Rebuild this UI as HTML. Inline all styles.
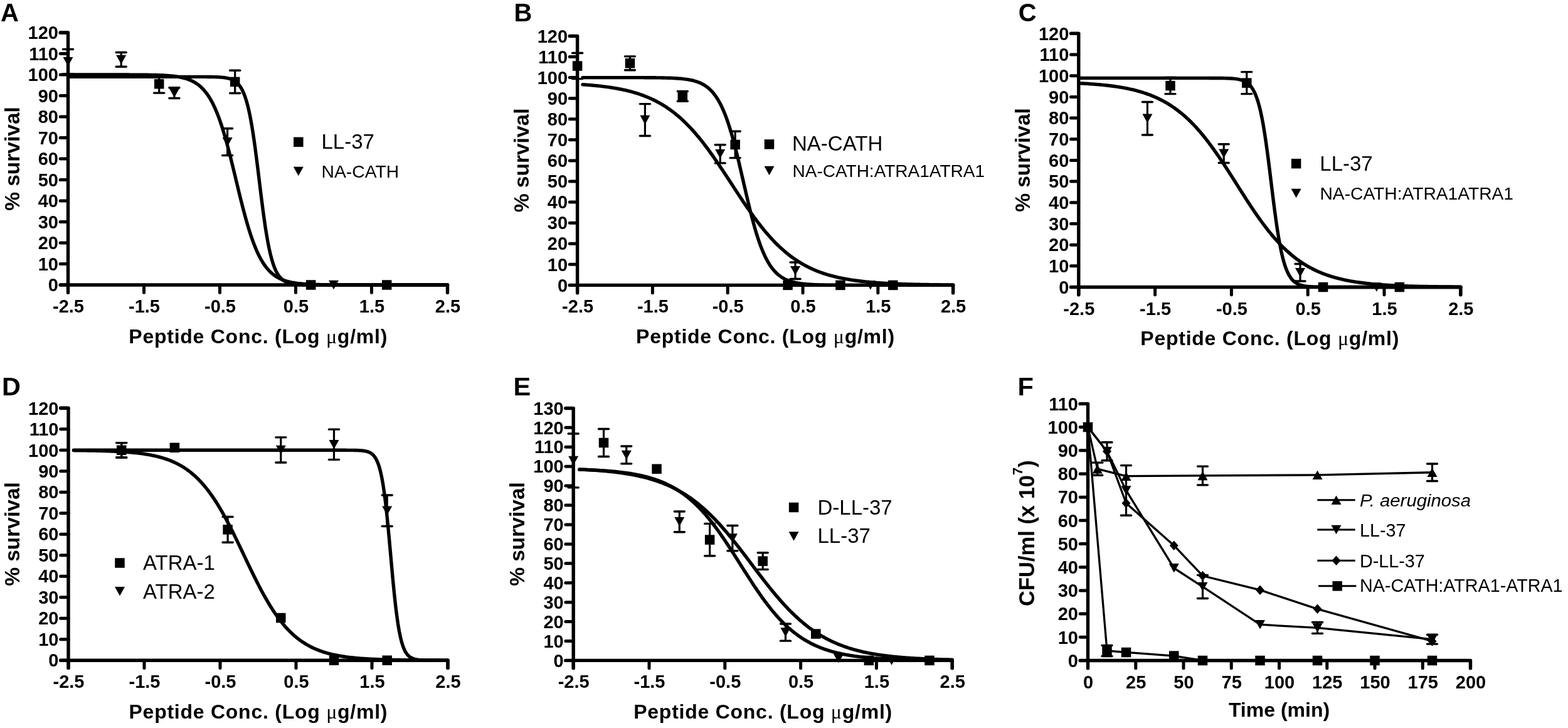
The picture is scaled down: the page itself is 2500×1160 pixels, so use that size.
<!DOCTYPE html>
<html><head><meta charset="utf-8"><title>Figure</title>
<style>
html,body{margin:0;padding:0;background:#fff;width:2500px;height:1160px;overflow:hidden}
svg{display:block}
text{font-family:"Liberation Sans", Arial, sans-serif;fill:#000;stroke:none}
</style></head><body>
<svg width="2500" height="1160" viewBox="0 0 2500 1160" stroke="#000" fill="#000">
<rect width="2500" height="1160" fill="#fff" stroke="none"/>
<g stroke="none">
</g>
<path d="M96.2,52 H108.5 V466.3" fill="none" stroke-width="5.4" stroke-linejoin="round" stroke-linecap="round"/>
<path d="M96.2,454 H713.5 V466.3" fill="none" stroke-width="5.4" stroke-linejoin="round" stroke-linecap="round"/>
<line x1="96.2" y1="454" x2="108.5" y2="454" stroke-width="5" stroke-linecap="round"/>
<line x1="96.2" y1="420.5" x2="108.5" y2="420.5" stroke-width="5" stroke-linecap="round"/>
<line x1="96.2" y1="387" x2="108.5" y2="387" stroke-width="5" stroke-linecap="round"/>
<line x1="96.2" y1="353.5" x2="108.5" y2="353.5" stroke-width="5" stroke-linecap="round"/>
<line x1="96.2" y1="320" x2="108.5" y2="320" stroke-width="5" stroke-linecap="round"/>
<line x1="96.2" y1="286.5" x2="108.5" y2="286.5" stroke-width="5" stroke-linecap="round"/>
<line x1="96.2" y1="253" x2="108.5" y2="253" stroke-width="5" stroke-linecap="round"/>
<line x1="96.2" y1="219.5" x2="108.5" y2="219.5" stroke-width="5" stroke-linecap="round"/>
<line x1="96.2" y1="186" x2="108.5" y2="186" stroke-width="5" stroke-linecap="round"/>
<line x1="96.2" y1="152.5" x2="108.5" y2="152.5" stroke-width="5" stroke-linecap="round"/>
<line x1="96.2" y1="119" x2="108.5" y2="119" stroke-width="5" stroke-linecap="round"/>
<line x1="96.2" y1="85.5" x2="108.5" y2="85.5" stroke-width="5" stroke-linecap="round"/>
<line x1="96.2" y1="52" x2="108.5" y2="52" stroke-width="5" stroke-linecap="round"/>
<line x1="108.5" y1="454" x2="108.5" y2="466.3" stroke-width="5" stroke-linecap="round"/>
<line x1="229.5" y1="454" x2="229.5" y2="466.3" stroke-width="5" stroke-linecap="round"/>
<line x1="350.5" y1="454" x2="350.5" y2="466.3" stroke-width="5" stroke-linecap="round"/>
<line x1="471.5" y1="454" x2="471.5" y2="466.3" stroke-width="5" stroke-linecap="round"/>
<line x1="592.5" y1="454" x2="592.5" y2="466.3" stroke-width="5" stroke-linecap="round"/>
<line x1="713.5" y1="454" x2="713.5" y2="466.3" stroke-width="5" stroke-linecap="round"/>
<text x="93" y="464.2" font-size="29" font-weight="bold" text-anchor="end" font-style="normal">0</text>
<text x="93" y="430.7" font-size="29" font-weight="bold" text-anchor="end" font-style="normal">10</text>
<text x="93" y="397.2" font-size="29" font-weight="bold" text-anchor="end" font-style="normal">20</text>
<text x="93" y="363.7" font-size="29" font-weight="bold" text-anchor="end" font-style="normal">30</text>
<text x="93" y="330.2" font-size="29" font-weight="bold" text-anchor="end" font-style="normal">40</text>
<text x="93" y="296.7" font-size="29" font-weight="bold" text-anchor="end" font-style="normal">50</text>
<text x="93" y="263.2" font-size="29" font-weight="bold" text-anchor="end" font-style="normal">60</text>
<text x="93" y="229.7" font-size="29" font-weight="bold" text-anchor="end" font-style="normal">70</text>
<text x="93" y="196.2" font-size="29" font-weight="bold" text-anchor="end" font-style="normal">80</text>
<text x="93" y="162.7" font-size="29" font-weight="bold" text-anchor="end" font-style="normal">90</text>
<text x="93" y="129.2" font-size="29" font-weight="bold" text-anchor="end" font-style="normal">100</text>
<text x="93" y="95.7" font-size="29" font-weight="bold" text-anchor="end" font-style="normal">110</text>
<text x="93" y="62.2" font-size="29" font-weight="bold" text-anchor="end" font-style="normal">120</text>
<text x="109" y="498" font-size="29" font-weight="bold" text-anchor="middle" font-style="normal">-2.5</text>
<text x="230" y="498" font-size="29" font-weight="bold" text-anchor="middle" font-style="normal">-1.5</text>
<text x="351" y="498" font-size="29" font-weight="bold" text-anchor="middle" font-style="normal">-0.5</text>
<text x="472" y="498" font-size="29" font-weight="bold" text-anchor="middle" font-style="normal">0.5</text>
<text x="593" y="498" font-size="29" font-weight="bold" text-anchor="middle" font-style="normal">1.5</text>
<text x="714" y="498" font-size="29" font-weight="bold" text-anchor="middle" font-style="normal">2.5</text>
<polyline points="108.5,119 110.52,119 112.53,119 114.55,119 116.57,119 118.58,119 120.6,119 122.62,119 124.63,119 126.65,119 128.67,119 130.68,119 132.7,119 134.72,119 136.73,119 138.75,119 140.77,119 142.78,119 144.8,119 146.82,119 148.83,119 150.85,119 152.87,119.01 154.88,119.01 156.9,119.01 158.92,119.01 160.93,119.01 162.95,119.01 164.97,119.01 166.98,119.01 169,119.01 171.02,119.01 173.03,119.01 175.05,119.02 177.07,119.02 179.08,119.02 181.1,119.02 183.12,119.02 185.13,119.03 187.15,119.03 189.17,119.03 191.18,119.03 193.2,119.04 195.22,119.04 197.23,119.05 199.25,119.05 201.27,119.06 203.28,119.06 205.3,119.07 207.32,119.08 209.33,119.08 211.35,119.09 213.37,119.1 215.38,119.11 217.4,119.13 219.42,119.14 221.43,119.15 223.45,119.17 225.47,119.19 227.48,119.21 229.5,119.23 231.52,119.25 233.53,119.28 235.55,119.31 237.57,119.34 239.58,119.38 241.6,119.42 243.62,119.46 245.63,119.51 247.65,119.56 249.67,119.62 251.68,119.69 253.7,119.76 255.72,119.84 257.73,119.93 259.75,120.02 261.77,120.13 263.78,120.25 265.8,120.38 267.82,120.53 269.83,120.69 271.85,120.86 273.87,121.06 275.88,121.27 277.9,121.51 279.92,121.77 281.93,122.06 283.95,122.38 285.97,122.73 287.98,123.12 290,123.55 292.02,124.02 294.03,124.54 296.05,125.12 298.07,125.75 300.08,126.44 302.1,127.21 304.12,128.05 306.13,128.98 308.15,129.99 310.17,131.11 312.18,132.33 314.2,133.68 316.22,135.15 318.23,136.76 320.25,138.52 322.27,140.45 324.28,142.55 326.3,144.84 328.32,147.33 330.33,150.04 332.35,152.98 334.37,156.16 336.38,159.6 338.4,163.31 340.42,167.3 342.43,171.59 344.45,176.19 346.47,181.1 348.48,186.33 350.5,191.87 352.52,197.75 354.53,203.94 356.55,210.45 358.57,217.25 360.58,224.35 362.6,231.71 364.62,239.32 366.63,247.15 368.65,255.16 370.67,263.33 372.68,271.61 374.7,279.96 376.72,288.35 378.73,296.72 380.75,305.05 382.77,313.28 384.78,321.38 386.8,329.32 388.82,337.05 390.83,344.56 392.85,351.81 394.87,358.78 396.88,365.45 398.9,371.82 400.92,377.88 402.93,383.61 404.95,389.01 406.97,394.1 408.98,398.87 411,403.33 413.02,407.49 415.03,411.36 417.05,414.95 419.07,418.27 421.08,421.35 423.1,424.18 425.12,426.79 427.13,429.19 429.15,431.4 431.17,433.42 433.18,435.27 435.2,436.97 437.22,438.51 439.23,439.93 441.25,441.22 443.27,442.39 445.28,443.47 447.3,444.44 449.32,445.33 451.33,446.14 453.35,446.87 455.37,447.54 457.38,448.14 459.4,448.69 461.42,449.19 463.43,449.64 465.45,450.05 467.47,450.42 469.48,450.76 471.5,451.07 473.52,451.35 475.53,451.6 477.55,451.82 479.57,452.03 481.58,452.22 483.6,452.39 485.62,452.54 487.63,452.68 489.65,452.8 491.67,452.92 493.68,453.02 495.7,453.11 497.72,453.2 499.73,453.27 501.75,453.34 503.77,453.41 505.78,453.46 507.8,453.51 509.82,453.56 511.83,453.6 513.85,453.64 515.87,453.67 517.88,453.7 519.9,453.73 521.92,453.76 523.93,453.78 525.95,453.8 527.97,453.82 529.98,453.84 532,453.85 534.02,453.87 536.03,453.88 538.05,453.89 540.07,453.9 542.08,453.91 544.1,453.92 546.12,453.93 548.13,453.93 550.15,453.94 552.17,453.95 554.18,453.95 556.2,453.96 558.22,453.96 560.23,453.96 562.25,453.97 564.27,453.97 566.28,453.97 568.3,453.98 570.32,453.98 572.33,453.98 574.35,453.98 576.37,453.98 578.38,453.99 580.4,453.99 582.42,453.99 584.43,453.99 586.45,453.99 588.47,453.99 590.48,453.99 592.5,453.99 594.52,453.99 596.53,453.99 598.55,453.99 600.57,454 602.58,454 604.6,454 606.62,454 608.63,454 610.65,454 612.67,454 614.68,454 616.7,454 618.72,454 620.73,454 622.75,454 624.77,454 626.78,454 628.8,454 630.82,454 632.83,454 634.85,454 636.87,454 638.88,454 640.9,454 642.92,454 644.93,454 646.95,454 648.97,454 650.98,454 653,454 655.02,454 657.03,454 659.05,454 661.07,454 663.08,454 665.1,454 667.12,454 669.13,454 671.15,454 673.17,454 675.18,454 677.2,454 679.22,454 681.23,454 683.25,454 685.27,454 687.28,454 689.3,454 691.32,454 693.33,454 695.35,454 697.37,454 699.38,454 701.4,454 703.42,454 705.43,454 707.45,454 709.47,454 711.48,454 713.5,454" fill="none" stroke-width="5.4" stroke-linejoin="round" stroke-linecap="round"/>
<polyline points="108.5,122.35 110.52,122.35 112.53,122.35 114.55,122.35 116.57,122.35 118.58,122.35 120.6,122.35 122.62,122.35 124.63,122.35 126.65,122.35 128.67,122.35 130.68,122.35 132.7,122.35 134.72,122.35 136.73,122.35 138.75,122.35 140.77,122.35 142.78,122.35 144.8,122.35 146.82,122.35 148.83,122.35 150.85,122.35 152.87,122.35 154.88,122.35 156.9,122.35 158.92,122.35 160.93,122.35 162.95,122.35 164.97,122.35 166.98,122.35 169,122.35 171.02,122.35 173.03,122.35 175.05,122.35 177.07,122.35 179.08,122.35 181.1,122.35 183.12,122.35 185.13,122.35 187.15,122.35 189.17,122.35 191.18,122.35 193.2,122.35 195.22,122.35 197.23,122.35 199.25,122.35 201.27,122.35 203.28,122.35 205.3,122.35 207.32,122.35 209.33,122.35 211.35,122.35 213.37,122.35 215.38,122.35 217.4,122.35 219.42,122.35 221.43,122.35 223.45,122.35 225.47,122.35 227.48,122.35 229.5,122.35 231.52,122.35 233.53,122.35 235.55,122.35 237.57,122.35 239.58,122.35 241.6,122.35 243.62,122.35 245.63,122.35 247.65,122.35 249.67,122.35 251.68,122.35 253.7,122.35 255.72,122.35 257.73,122.35 259.75,122.35 261.77,122.35 263.78,122.35 265.8,122.35 267.82,122.35 269.83,122.35 271.85,122.35 273.87,122.35 275.88,122.35 277.9,122.35 279.92,122.35 281.93,122.35 283.95,122.35 285.97,122.35 287.98,122.35 290,122.35 292.02,122.35 294.03,122.35 296.05,122.35 298.07,122.35 300.08,122.35 302.1,122.36 304.12,122.36 306.13,122.36 308.15,122.36 310.17,122.36 312.18,122.36 314.2,122.37 316.22,122.37 318.23,122.38 320.25,122.38 322.27,122.39 324.28,122.4 326.3,122.41 328.32,122.42 330.33,122.44 332.35,122.46 334.37,122.48 336.38,122.51 338.4,122.55 340.42,122.59 342.43,122.64 344.45,122.71 346.47,122.79 348.48,122.89 350.5,123 352.52,123.15 354.53,123.32 356.55,123.54 358.57,123.8 360.58,124.12 362.6,124.51 364.62,124.98 366.63,125.55 368.65,126.25 370.67,127.1 372.68,128.14 374.7,129.39 376.72,130.9 378.73,132.73 380.75,134.94 382.77,137.59 384.78,140.77 386.8,144.56 388.82,149.07 390.83,154.4 392.85,160.66 394.87,167.96 396.88,176.4 398.9,186.04 400.92,196.94 402.93,209.11 404.95,222.48 406.97,236.96 408.98,252.35 411,268.41 413.02,284.87 415.03,301.38 417.05,317.64 419.07,333.33 421.08,348.2 423.1,362.03 425.12,374.69 427.13,386.1 429.15,396.25 431.17,405.15 433.18,412.9 435.2,419.56 437.22,425.25 439.23,430.08 441.25,434.15 443.27,437.56 445.28,440.41 447.3,442.79 449.32,444.76 451.33,446.39 453.35,447.74 455.37,448.86 457.38,449.78 459.4,450.53 461.42,451.15 463.43,451.67 465.45,452.09 467.47,452.43 469.48,452.71 471.5,452.94 473.52,453.14 475.53,453.29 477.55,453.42 479.57,453.52 481.58,453.61 483.6,453.68 485.62,453.74 487.63,453.79 489.65,453.82 491.67,453.86 493.68,453.88 495.7,453.9 497.72,453.92 499.73,453.94 501.75,453.95 503.77,453.96 505.78,453.96 507.8,453.97 509.82,453.98 511.83,453.98 513.85,453.98 515.87,453.99 517.88,453.99 519.9,453.99 521.92,453.99 523.93,453.99 525.95,454 527.97,454 529.98,454 532,454 534.02,454 536.03,454 538.05,454 540.07,454 542.08,454 544.1,454 546.12,454 548.13,454 550.15,454 552.17,454 554.18,454 556.2,454 558.22,454 560.23,454 562.25,454 564.27,454 566.28,454 568.3,454 570.32,454 572.33,454 574.35,454 576.37,454 578.38,454 580.4,454 582.42,454 584.43,454 586.45,454 588.47,454 590.48,454 592.5,454 594.52,454 596.53,454 598.55,454 600.57,454 602.58,454 604.6,454 606.62,454 608.63,454 610.65,454 612.67,454 614.68,454 616.7,454 618.72,454 620.73,454 622.75,454 624.77,454 626.78,454 628.8,454 630.82,454 632.83,454 634.85,454 636.87,454 638.88,454 640.9,454 642.92,454 644.93,454 646.95,454 648.97,454 650.98,454 653,454 655.02,454 657.03,454 659.05,454 661.07,454 663.08,454 665.1,454 667.12,454 669.13,454 671.15,454 673.17,454 675.18,454 677.2,454 679.22,454 681.23,454 683.25,454 685.27,454 687.28,454 689.3,454 691.32,454 693.33,454 695.35,454 697.37,454 699.38,454 701.4,454 703.42,454 705.43,454 707.45,454 709.47,454 711.48,454 713.5,454" fill="none" stroke-width="5.4" stroke-linejoin="round" stroke-linecap="round"/>
<line x1="108.5" y1="78.46" x2="108.5" y2="117.99" stroke-width="3.2" stroke-linecap="butt"/>
<line x1="100.5" y1="78.46" x2="116.5" y2="78.46" stroke-width="3.4" stroke-linecap="round"/>
<line x1="100.5" y1="117.99" x2="116.5" y2="117.99" stroke-width="3.4" stroke-linecap="round"/>
<polygon points="100.5,90.98 116.5,90.98 108.5,105.48" stroke="none"/>
<line x1="193.2" y1="83.49" x2="193.2" y2="106.27" stroke-width="3.2" stroke-linecap="butt"/>
<line x1="185.2" y1="83.49" x2="201.2" y2="83.49" stroke-width="3.4" stroke-linecap="round"/>
<line x1="185.2" y1="106.27" x2="201.2" y2="106.27" stroke-width="3.4" stroke-linecap="round"/>
<polygon points="185.2,87.63 201.2,87.63 193.2,102.13" stroke="none"/>
<line x1="253.7" y1="119.34" x2="253.7" y2="148.15" stroke-width="3.2" stroke-linecap="butt"/>
<line x1="245.7" y1="119.34" x2="261.7" y2="119.34" stroke-width="3.4" stroke-linecap="round"/>
<line x1="245.7" y1="148.15" x2="261.7" y2="148.15" stroke-width="3.4" stroke-linecap="round"/>
<rect x="245.95" y="125.99" width="15.5" height="15.5" stroke="none"/>
<line x1="277.9" y1="139.77" x2="277.9" y2="156.52" stroke-width="3.2" stroke-linecap="butt"/>
<line x1="269.9" y1="139.77" x2="285.9" y2="139.77" stroke-width="3.4" stroke-linecap="round"/>
<line x1="269.9" y1="156.52" x2="285.9" y2="156.52" stroke-width="3.4" stroke-linecap="round"/>
<polygon points="269.9,140.89 285.9,140.89 277.9,155.39" stroke="none"/>
<line x1="374.7" y1="112.3" x2="374.7" y2="148.48" stroke-width="3.2" stroke-linecap="butt"/>
<line x1="366.7" y1="112.3" x2="382.7" y2="112.3" stroke-width="3.4" stroke-linecap="round"/>
<line x1="366.7" y1="148.48" x2="382.7" y2="148.48" stroke-width="3.4" stroke-linecap="round"/>
<rect x="366.95" y="122.64" width="15.5" height="15.5" stroke="none"/>
<line x1="362.6" y1="204.76" x2="362.6" y2="247.64" stroke-width="3.2" stroke-linecap="butt"/>
<line x1="354.6" y1="204.76" x2="370.6" y2="204.76" stroke-width="3.4" stroke-linecap="round"/>
<line x1="354.6" y1="247.64" x2="370.6" y2="247.64" stroke-width="3.4" stroke-linecap="round"/>
<polygon points="354.6,218.95 370.6,218.95 362.6,233.45" stroke="none"/>
<rect x="487.95" y="446.25" width="15.5" height="15.5" stroke="none"/>
<polygon points="524,446.75 540,446.75 532,461.25" stroke="none"/>
<rect x="608.95" y="446.25" width="15.5" height="15.5" stroke="none"/>
<rect x="468.05" y="218.55" width="15.5" height="15.5" stroke="none"/>
<text x="512.5" y="236.7" font-size="33" font-weight="normal" text-anchor="start" font-style="normal">LL-37</text>
<polygon points="467.8,265.75 483.8,265.75 475.8,280.25" stroke="none"/>
<text x="512.5" y="283.1" font-size="28.3" font-weight="normal" text-anchor="start" font-style="normal">NA-CATH</text>
<text x="1" y="33.8" font-size="40" font-weight="bold" text-anchor="start" font-style="normal">A</text>
<text transform="translate(30.5,253) rotate(-90)" font-size="33.5" font-weight="bold" text-anchor="middle">% survival</text>
<text x="411.3" y="547" font-size="32" font-weight="bold" text-anchor="middle" font-style="normal" textLength="412" lengthAdjust="spacing">Peptide Conc. (Log <tspan font-family="Liberation Serif, serif" font-weight="normal">μ</tspan>g/ml)</text>
<path d="M908.3,57.44 H920.6 V466.7" fill="none" stroke-width="5.4" stroke-linejoin="round" stroke-linecap="round"/>
<path d="M908.3,454.4 H1519.6 V466.7" fill="none" stroke-width="5.4" stroke-linejoin="round" stroke-linecap="round"/>
<line x1="908.3" y1="454.4" x2="920.6" y2="454.4" stroke-width="5" stroke-linecap="round"/>
<line x1="908.3" y1="421.32" x2="920.6" y2="421.32" stroke-width="5" stroke-linecap="round"/>
<line x1="908.3" y1="388.24" x2="920.6" y2="388.24" stroke-width="5" stroke-linecap="round"/>
<line x1="908.3" y1="355.16" x2="920.6" y2="355.16" stroke-width="5" stroke-linecap="round"/>
<line x1="908.3" y1="322.08" x2="920.6" y2="322.08" stroke-width="5" stroke-linecap="round"/>
<line x1="908.3" y1="289" x2="920.6" y2="289" stroke-width="5" stroke-linecap="round"/>
<line x1="908.3" y1="255.92" x2="920.6" y2="255.92" stroke-width="5" stroke-linecap="round"/>
<line x1="908.3" y1="222.84" x2="920.6" y2="222.84" stroke-width="5" stroke-linecap="round"/>
<line x1="908.3" y1="189.76" x2="920.6" y2="189.76" stroke-width="5" stroke-linecap="round"/>
<line x1="908.3" y1="156.68" x2="920.6" y2="156.68" stroke-width="5" stroke-linecap="round"/>
<line x1="908.3" y1="123.6" x2="920.6" y2="123.6" stroke-width="5" stroke-linecap="round"/>
<line x1="908.3" y1="90.52" x2="920.6" y2="90.52" stroke-width="5" stroke-linecap="round"/>
<line x1="908.3" y1="57.44" x2="920.6" y2="57.44" stroke-width="5" stroke-linecap="round"/>
<line x1="920.6" y1="454.4" x2="920.6" y2="466.7" stroke-width="5" stroke-linecap="round"/>
<line x1="1040.4" y1="454.4" x2="1040.4" y2="466.7" stroke-width="5" stroke-linecap="round"/>
<line x1="1160.2" y1="454.4" x2="1160.2" y2="466.7" stroke-width="5" stroke-linecap="round"/>
<line x1="1280" y1="454.4" x2="1280" y2="466.7" stroke-width="5" stroke-linecap="round"/>
<line x1="1399.8" y1="454.4" x2="1399.8" y2="466.7" stroke-width="5" stroke-linecap="round"/>
<line x1="1519.6" y1="454.4" x2="1519.6" y2="466.7" stroke-width="5" stroke-linecap="round"/>
<text x="905.1" y="464.6" font-size="29" font-weight="bold" text-anchor="end" font-style="normal">0</text>
<text x="905.1" y="431.52" font-size="29" font-weight="bold" text-anchor="end" font-style="normal">10</text>
<text x="905.1" y="398.44" font-size="29" font-weight="bold" text-anchor="end" font-style="normal">20</text>
<text x="905.1" y="365.36" font-size="29" font-weight="bold" text-anchor="end" font-style="normal">30</text>
<text x="905.1" y="332.28" font-size="29" font-weight="bold" text-anchor="end" font-style="normal">40</text>
<text x="905.1" y="299.2" font-size="29" font-weight="bold" text-anchor="end" font-style="normal">50</text>
<text x="905.1" y="266.12" font-size="29" font-weight="bold" text-anchor="end" font-style="normal">60</text>
<text x="905.1" y="233.04" font-size="29" font-weight="bold" text-anchor="end" font-style="normal">70</text>
<text x="905.1" y="199.96" font-size="29" font-weight="bold" text-anchor="end" font-style="normal">80</text>
<text x="905.1" y="166.88" font-size="29" font-weight="bold" text-anchor="end" font-style="normal">90</text>
<text x="905.1" y="133.8" font-size="29" font-weight="bold" text-anchor="end" font-style="normal">100</text>
<text x="905.1" y="100.72" font-size="29" font-weight="bold" text-anchor="end" font-style="normal">110</text>
<text x="905.1" y="67.64" font-size="29" font-weight="bold" text-anchor="end" font-style="normal">120</text>
<text x="921.1" y="498.4" font-size="29" font-weight="bold" text-anchor="middle" font-style="normal">-2.5</text>
<text x="1040.9" y="498.4" font-size="29" font-weight="bold" text-anchor="middle" font-style="normal">-1.5</text>
<text x="1160.7" y="498.4" font-size="29" font-weight="bold" text-anchor="middle" font-style="normal">-0.5</text>
<text x="1280.5" y="498.4" font-size="29" font-weight="bold" text-anchor="middle" font-style="normal">0.5</text>
<text x="1400.3" y="498.4" font-size="29" font-weight="bold" text-anchor="middle" font-style="normal">1.5</text>
<text x="1520.1" y="498.4" font-size="29" font-weight="bold" text-anchor="middle" font-style="normal">2.5</text>
<polyline points="928.99,123.6 930.95,123.6 932.92,123.6 934.89,123.6 936.86,123.6 938.83,123.6 940.8,123.6 942.77,123.6 944.74,123.6 946.7,123.6 948.67,123.6 950.64,123.6 952.61,123.6 954.58,123.6 956.55,123.6 958.52,123.6 960.49,123.6 962.45,123.6 964.42,123.6 966.39,123.6 968.36,123.6 970.33,123.6 972.3,123.6 974.27,123.6 976.24,123.61 978.2,123.61 980.17,123.61 982.14,123.61 984.11,123.61 986.08,123.61 988.05,123.61 990.02,123.61 991.98,123.61 993.95,123.61 995.92,123.62 997.89,123.62 999.86,123.62 1001.83,123.62 1003.8,123.62 1005.77,123.63 1007.73,123.63 1009.7,123.63 1011.67,123.64 1013.64,123.64 1015.61,123.64 1017.58,123.65 1019.55,123.65 1021.52,123.66 1023.48,123.67 1025.45,123.67 1027.42,123.68 1029.39,123.69 1031.36,123.7 1033.33,123.71 1035.3,123.72 1037.27,123.74 1039.23,123.75 1041.2,123.77 1043.17,123.79 1045.14,123.81 1047.11,123.83 1049.08,123.86 1051.05,123.88 1053.01,123.91 1054.98,123.95 1056.95,123.99 1058.92,124.03 1060.89,124.08 1062.86,124.13 1064.83,124.19 1066.8,124.25 1068.76,124.32 1070.73,124.4 1072.7,124.49 1074.67,124.58 1076.64,124.69 1078.61,124.81 1080.58,124.94 1082.55,125.08 1084.51,125.25 1086.48,125.42 1088.45,125.62 1090.42,125.84 1092.39,126.09 1094.36,126.35 1096.33,126.65 1098.3,126.98 1100.26,127.35 1102.23,127.75 1104.2,128.2 1106.17,128.7 1108.14,129.24 1110.11,129.85 1112.08,130.52 1114.05,131.25 1116.01,132.07 1117.98,132.97 1119.95,133.96 1121.92,135.05 1123.89,136.25 1125.86,137.58 1127.83,139.03 1129.79,140.63 1131.76,142.39 1133.73,144.31 1135.7,146.42 1137.67,148.72 1139.64,151.24 1141.61,153.98 1143.58,156.96 1145.54,160.2 1147.51,163.72 1149.48,167.52 1151.45,171.62 1153.42,176.03 1155.39,180.77 1157.36,185.84 1159.33,191.25 1161.29,197 1163.26,203.09 1165.23,209.52 1167.2,216.28 1169.17,223.35 1171.14,230.72 1173.11,238.36 1175.08,246.25 1177.04,254.35 1179.01,262.63 1180.98,271.05 1182.95,279.57 1184.92,288.13 1186.89,296.7 1188.86,305.23 1190.82,313.67 1192.79,321.98 1194.76,330.12 1196.73,338.06 1198.7,345.75 1200.67,353.18 1202.64,360.31 1204.61,367.13 1206.57,373.63 1208.54,379.79 1210.51,385.61 1212.48,391.09 1214.45,396.23 1216.42,401.03 1218.39,405.51 1220.36,409.67 1222.32,413.54 1224.29,417.11 1226.26,420.4 1228.23,423.44 1230.2,426.23 1232.17,428.79 1234.14,431.13 1236.11,433.28 1238.07,435.24 1240.04,437.02 1242.01,438.65 1243.98,440.14 1245.95,441.49 1247.92,442.71 1249.89,443.83 1251.85,444.84 1253.82,445.76 1255.79,446.59 1257.76,447.34 1259.73,448.02 1261.7,448.64 1263.67,449.2 1265.64,449.7 1267.6,450.16 1269.57,450.57 1271.54,450.95 1273.51,451.28 1275.48,451.59 1277.45,451.86 1279.42,452.11 1281.39,452.33 1283.35,452.54 1285.32,452.72 1287.29,452.88 1289.26,453.03 1291.23,453.17 1293.2,453.29 1295.17,453.4 1297.14,453.5 1299.1,453.58 1301.07,453.66 1303.04,453.74 1305.01,453.8 1306.98,453.86 1308.95,453.91 1310.92,453.96 1312.89,454 1314.85,454.04 1316.82,454.08 1318.79,454.11 1320.76,454.14 1322.73,454.16 1324.7,454.19 1326.67,454.21 1328.63,454.23 1330.6,454.24 1332.57,454.26 1334.54,454.27 1336.51,454.29 1338.48,454.3 1340.45,454.31 1342.42,454.32 1344.38,454.32 1346.35,454.33 1348.32,454.34 1350.29,454.34 1352.26,454.35 1354.23,454.36 1356.2,454.36 1358.17,454.36 1360.13,454.37 1362.1,454.37 1364.07,454.37 1366.04,454.38 1368.01,454.38 1369.98,454.38 1371.95,454.38 1373.92,454.38 1375.88,454.39 1377.85,454.39 1379.82,454.39 1381.79,454.39 1383.76,454.39 1385.73,454.39 1387.7,454.39 1389.66,454.39 1391.63,454.39 1393.6,454.39 1395.57,454.39 1397.54,454.4 1399.51,454.4 1401.48,454.4 1403.45,454.4 1405.41,454.4 1407.38,454.4 1409.35,454.4 1411.32,454.4 1413.29,454.4 1415.26,454.4 1417.23,454.4 1419.2,454.4 1421.16,454.4 1423.13,454.4 1425.1,454.4 1427.07,454.4 1429.04,454.4 1431.01,454.4 1432.98,454.4 1434.95,454.4 1436.91,454.4 1438.88,454.4 1440.85,454.4 1442.82,454.4 1444.79,454.4 1446.76,454.4 1448.73,454.4 1450.7,454.4 1452.66,454.4 1454.63,454.4 1456.6,454.4 1458.57,454.4 1460.54,454.4 1462.51,454.4 1464.48,454.4 1466.44,454.4 1468.41,454.4 1470.38,454.4 1472.35,454.4 1474.32,454.4 1476.29,454.4 1478.26,454.4 1480.23,454.4 1482.19,454.4 1484.16,454.4 1486.13,454.4 1488.1,454.4 1490.07,454.4 1492.04,454.4 1494.01,454.4 1495.98,454.4 1497.94,454.4 1499.91,454.4 1501.88,454.4 1503.85,454.4 1505.82,454.4 1507.79,454.4 1509.76,454.4 1511.73,454.4 1513.69,454.4 1515.66,454.4 1517.63,454.4 1519.6,454.4" fill="none" stroke-width="5.4" stroke-linejoin="round" stroke-linecap="round"/>
<polyline points="928.99,134.76 930.95,134.89 932.92,135.03 934.89,135.18 936.86,135.32 938.83,135.48 940.8,135.64 942.77,135.81 944.74,135.98 946.7,136.16 948.67,136.34 950.64,136.53 952.61,136.73 954.58,136.94 956.55,137.15 958.52,137.38 960.49,137.61 962.45,137.84 964.42,138.09 966.39,138.35 968.36,138.61 970.33,138.89 972.3,139.17 974.27,139.47 976.24,139.77 978.2,140.09 980.17,140.42 982.14,140.76 984.11,141.11 986.08,141.48 988.05,141.86 990.02,142.25 991.98,142.65 993.95,143.07 995.92,143.51 997.89,143.96 999.86,144.42 1001.83,144.9 1003.8,145.4 1005.77,145.92 1007.73,146.45 1009.7,147 1011.67,147.57 1013.64,148.16 1015.61,148.77 1017.58,149.4 1019.55,150.05 1021.52,150.73 1023.48,151.42 1025.45,152.14 1027.42,152.89 1029.39,153.65 1031.36,154.45 1033.33,155.27 1035.3,156.11 1037.27,156.98 1039.23,157.88 1041.2,158.81 1043.17,159.77 1045.14,160.76 1047.11,161.77 1049.08,162.82 1051.05,163.9 1053.01,165.02 1054.98,166.17 1056.95,167.35 1058.92,168.56 1060.89,169.82 1062.86,171.1 1064.83,172.43 1066.8,173.79 1068.76,175.19 1070.73,176.63 1072.7,178.11 1074.67,179.62 1076.64,181.18 1078.61,182.78 1080.58,184.42 1082.55,186.1 1084.51,187.82 1086.48,189.59 1088.45,191.39 1090.42,193.25 1092.39,195.14 1094.36,197.08 1096.33,199.06 1098.3,201.08 1100.26,203.15 1102.23,205.26 1104.2,207.41 1106.17,209.61 1108.14,211.85 1110.11,214.13 1112.08,216.45 1114.05,218.82 1116.01,221.22 1117.98,223.67 1119.95,226.15 1121.92,228.67 1123.89,231.24 1125.86,233.83 1127.83,236.47 1129.79,239.13 1131.76,241.84 1133.73,244.57 1135.7,247.33 1137.67,250.13 1139.64,252.95 1141.61,255.79 1143.58,258.66 1145.54,261.56 1147.51,264.47 1149.48,267.41 1151.45,270.36 1153.42,273.32 1155.39,276.3 1157.36,279.3 1159.33,282.3 1161.29,285.31 1163.26,288.32 1165.23,291.34 1167.2,294.35 1169.17,297.37 1171.14,300.38 1173.11,303.39 1175.08,306.39 1177.04,309.38 1179.01,312.36 1180.98,315.33 1182.95,318.28 1184.92,321.21 1186.89,324.13 1188.86,327.02 1190.82,329.89 1192.79,332.74 1194.76,335.56 1196.73,338.35 1198.7,341.11 1200.67,343.84 1202.64,346.55 1204.61,349.21 1206.57,351.84 1208.54,354.44 1210.51,357 1212.48,359.52 1214.45,362.01 1216.42,364.45 1218.39,366.86 1220.36,369.22 1222.32,371.54 1224.29,373.82 1226.26,376.06 1228.23,378.25 1230.2,380.41 1232.17,382.52 1234.14,384.58 1236.11,386.6 1238.07,388.58 1240.04,390.52 1242.01,392.41 1243.98,394.26 1245.95,396.07 1247.92,397.83 1249.89,399.55 1251.85,401.23 1253.82,402.87 1255.79,404.47 1257.76,406.03 1259.73,407.54 1261.7,409.02 1263.67,410.46 1265.64,411.85 1267.6,413.22 1269.57,414.54 1271.54,415.83 1273.51,417.08 1275.48,418.29 1277.45,419.47 1279.42,420.62 1281.39,421.73 1283.35,422.81 1285.32,423.86 1287.29,424.88 1289.26,425.87 1291.23,426.82 1293.2,427.75 1295.17,428.65 1297.14,429.52 1299.1,430.36 1301.07,431.18 1303.04,431.97 1305.01,432.74 1306.98,433.48 1308.95,434.2 1310.92,434.9 1312.89,435.57 1314.85,436.22 1316.82,436.85 1318.79,437.46 1320.76,438.05 1322.73,438.62 1324.7,439.17 1326.67,439.71 1328.63,440.22 1330.6,440.72 1332.57,441.2 1334.54,441.66 1336.51,442.11 1338.48,442.55 1340.45,442.97 1342.42,443.37 1344.38,443.76 1346.35,444.14 1348.32,444.5 1350.29,444.86 1352.26,445.2 1354.23,445.52 1356.2,445.84 1358.17,446.15 1360.13,446.44 1362.1,446.73 1364.07,447 1366.04,447.27 1368.01,447.52 1369.98,447.77 1371.95,448.01 1373.92,448.24 1375.88,448.46 1377.85,448.67 1379.82,448.88 1381.79,449.08 1383.76,449.27 1385.73,449.46 1387.7,449.63 1389.66,449.81 1391.63,449.97 1393.6,450.13 1395.57,450.29 1397.54,450.44 1399.51,450.58 1401.48,450.72 1403.45,450.85 1405.41,450.98 1407.38,451.1 1409.35,451.22 1411.32,451.34 1413.29,451.45 1415.26,451.56 1417.23,451.66 1419.2,451.76 1421.16,451.86 1423.13,451.95 1425.1,452.04 1427.07,452.12 1429.04,452.21 1431.01,452.29 1432.98,452.36 1434.95,452.44 1436.91,452.51 1438.88,452.58 1440.85,452.65 1442.82,452.71 1444.79,452.77 1446.76,452.83 1448.73,452.89 1450.7,452.94 1452.66,453 1454.63,453.05 1456.6,453.1 1458.57,453.14 1460.54,453.19 1462.51,453.23 1464.48,453.28 1466.44,453.32 1468.41,453.36 1470.38,453.4 1472.35,453.43 1474.32,453.47 1476.29,453.5 1478.26,453.53 1480.23,453.57 1482.19,453.6 1484.16,453.63 1486.13,453.65 1488.1,453.68 1490.07,453.71 1492.04,453.73 1494.01,453.76 1495.98,453.78 1497.94,453.8 1499.91,453.83 1501.88,453.85 1503.85,453.87 1505.82,453.89 1507.79,453.91 1509.76,453.92 1511.73,453.94 1513.69,453.96 1515.66,453.97 1517.63,453.99 1519.6,454" fill="none" stroke-width="5.4" stroke-linejoin="round" stroke-linecap="round"/>
<line x1="920.6" y1="84.57" x2="920.6" y2="125.58" stroke-width="3.2" stroke-linecap="butt"/>
<line x1="912.6" y1="84.57" x2="928.6" y2="84.57" stroke-width="3.4" stroke-linecap="round"/>
<line x1="912.6" y1="125.58" x2="928.6" y2="125.58" stroke-width="3.4" stroke-linecap="round"/>
<rect x="912.85" y="97.33" width="15.5" height="15.5" stroke="none"/>
<line x1="1004.46" y1="89.86" x2="1004.46" y2="111.69" stroke-width="3.2" stroke-linecap="butt"/>
<line x1="996.46" y1="89.86" x2="1012.46" y2="89.86" stroke-width="3.4" stroke-linecap="round"/>
<line x1="996.46" y1="111.69" x2="1012.46" y2="111.69" stroke-width="3.4" stroke-linecap="round"/>
<rect x="996.71" y="93.02" width="15.5" height="15.5" stroke="none"/>
<line x1="1088.32" y1="145.43" x2="1088.32" y2="161.31" stroke-width="3.2" stroke-linecap="butt"/>
<line x1="1080.32" y1="145.43" x2="1096.32" y2="145.43" stroke-width="3.4" stroke-linecap="round"/>
<line x1="1080.32" y1="161.31" x2="1096.32" y2="161.31" stroke-width="3.4" stroke-linecap="round"/>
<rect x="1080.57" y="145.62" width="15.5" height="15.5" stroke="none"/>
<line x1="1028.42" y1="165.61" x2="1028.42" y2="216.55" stroke-width="3.2" stroke-linecap="butt"/>
<line x1="1020.42" y1="165.61" x2="1036.42" y2="165.61" stroke-width="3.4" stroke-linecap="round"/>
<line x1="1020.42" y1="216.55" x2="1036.42" y2="216.55" stroke-width="3.4" stroke-linecap="round"/>
<polygon points="1020.42,183.83 1036.42,183.83 1028.42,198.33" stroke="none"/>
<line x1="1148.22" y1="230.78" x2="1148.22" y2="259.89" stroke-width="3.2" stroke-linecap="butt"/>
<line x1="1140.22" y1="230.78" x2="1156.22" y2="230.78" stroke-width="3.4" stroke-linecap="round"/>
<line x1="1140.22" y1="259.89" x2="1156.22" y2="259.89" stroke-width="3.4" stroke-linecap="round"/>
<polygon points="1140.22,238.08 1156.22,238.08 1148.22,252.58" stroke="none"/>
<line x1="1172.18" y1="209.28" x2="1172.18" y2="251.62" stroke-width="3.2" stroke-linecap="butt"/>
<line x1="1164.18" y1="209.28" x2="1180.18" y2="209.28" stroke-width="3.4" stroke-linecap="round"/>
<line x1="1164.18" y1="251.62" x2="1180.18" y2="251.62" stroke-width="3.4" stroke-linecap="round"/>
<rect x="1164.43" y="222.7" width="15.5" height="15.5" stroke="none"/>
<line x1="1268.02" y1="418.01" x2="1268.02" y2="444.48" stroke-width="3.2" stroke-linecap="butt"/>
<line x1="1260.02" y1="418.01" x2="1276.02" y2="418.01" stroke-width="3.4" stroke-linecap="round"/>
<line x1="1260.02" y1="444.48" x2="1276.02" y2="444.48" stroke-width="3.4" stroke-linecap="round"/>
<polygon points="1260.02,423.99 1276.02,423.99 1268.02,438.49" stroke="none"/>
<rect x="1248.29" y="446.65" width="15.5" height="15.5" stroke="none"/>
<rect x="1332.15" y="446.65" width="15.5" height="15.5" stroke="none"/>
<polygon points="1379.82,447.15 1395.82,447.15 1387.82,461.65" stroke="none"/>
<rect x="1416.01" y="446.65" width="15.5" height="15.5" stroke="none"/>
<rect x="1218.75" y="222.15" width="15.5" height="15.5" stroke="none"/>
<text x="1263" y="240.2" font-size="33" font-weight="normal" text-anchor="start" font-style="normal">NA-CATH</text>
<polygon points="1218.5,264.75 1234.5,264.75 1226.5,279.25" stroke="none"/>
<text x="1263.5" y="282" font-size="28" font-weight="normal" text-anchor="start" font-style="normal">NA-CATH:ATRA1ATRA1</text>
<text x="819.5" y="33.6" font-size="40" font-weight="bold" text-anchor="start" font-style="normal">B</text>
<text transform="translate(842.5,255.4) rotate(-90)" font-size="33.5" font-weight="bold" text-anchor="middle">% survival</text>
<text x="1220.1" y="547" font-size="32" font-weight="bold" text-anchor="middle" font-style="normal" textLength="412" lengthAdjust="spacing">Peptide Conc. (Log <tspan font-family="Liberation Serif, serif" font-weight="normal">μ</tspan>g/ml)</text>
<path d="M1707.5,53.34 H1719.8 V469.8" fill="none" stroke-width="5.4" stroke-linejoin="round" stroke-linecap="round"/>
<path d="M1707.5,457.5 H2328.8 V469.8" fill="none" stroke-width="5.4" stroke-linejoin="round" stroke-linecap="round"/>
<line x1="1707.5" y1="457.5" x2="1719.8" y2="457.5" stroke-width="5" stroke-linecap="round"/>
<line x1="1707.5" y1="423.82" x2="1719.8" y2="423.82" stroke-width="5" stroke-linecap="round"/>
<line x1="1707.5" y1="390.14" x2="1719.8" y2="390.14" stroke-width="5" stroke-linecap="round"/>
<line x1="1707.5" y1="356.46" x2="1719.8" y2="356.46" stroke-width="5" stroke-linecap="round"/>
<line x1="1707.5" y1="322.78" x2="1719.8" y2="322.78" stroke-width="5" stroke-linecap="round"/>
<line x1="1707.5" y1="289.1" x2="1719.8" y2="289.1" stroke-width="5" stroke-linecap="round"/>
<line x1="1707.5" y1="255.42" x2="1719.8" y2="255.42" stroke-width="5" stroke-linecap="round"/>
<line x1="1707.5" y1="221.74" x2="1719.8" y2="221.74" stroke-width="5" stroke-linecap="round"/>
<line x1="1707.5" y1="188.06" x2="1719.8" y2="188.06" stroke-width="5" stroke-linecap="round"/>
<line x1="1707.5" y1="154.38" x2="1719.8" y2="154.38" stroke-width="5" stroke-linecap="round"/>
<line x1="1707.5" y1="120.7" x2="1719.8" y2="120.7" stroke-width="5" stroke-linecap="round"/>
<line x1="1707.5" y1="87.02" x2="1719.8" y2="87.02" stroke-width="5" stroke-linecap="round"/>
<line x1="1707.5" y1="53.34" x2="1719.8" y2="53.34" stroke-width="5" stroke-linecap="round"/>
<line x1="1719.8" y1="457.5" x2="1719.8" y2="469.8" stroke-width="5" stroke-linecap="round"/>
<line x1="1841.6" y1="457.5" x2="1841.6" y2="469.8" stroke-width="5" stroke-linecap="round"/>
<line x1="1963.4" y1="457.5" x2="1963.4" y2="469.8" stroke-width="5" stroke-linecap="round"/>
<line x1="2085.2" y1="457.5" x2="2085.2" y2="469.8" stroke-width="5" stroke-linecap="round"/>
<line x1="2207" y1="457.5" x2="2207" y2="469.8" stroke-width="5" stroke-linecap="round"/>
<line x1="2328.8" y1="457.5" x2="2328.8" y2="469.8" stroke-width="5" stroke-linecap="round"/>
<text x="1704.3" y="467.7" font-size="29" font-weight="bold" text-anchor="end" font-style="normal">0</text>
<text x="1704.3" y="434.02" font-size="29" font-weight="bold" text-anchor="end" font-style="normal">10</text>
<text x="1704.3" y="400.34" font-size="29" font-weight="bold" text-anchor="end" font-style="normal">20</text>
<text x="1704.3" y="366.66" font-size="29" font-weight="bold" text-anchor="end" font-style="normal">30</text>
<text x="1704.3" y="332.98" font-size="29" font-weight="bold" text-anchor="end" font-style="normal">40</text>
<text x="1704.3" y="299.3" font-size="29" font-weight="bold" text-anchor="end" font-style="normal">50</text>
<text x="1704.3" y="265.62" font-size="29" font-weight="bold" text-anchor="end" font-style="normal">60</text>
<text x="1704.3" y="231.94" font-size="29" font-weight="bold" text-anchor="end" font-style="normal">70</text>
<text x="1704.3" y="198.26" font-size="29" font-weight="bold" text-anchor="end" font-style="normal">80</text>
<text x="1704.3" y="164.58" font-size="29" font-weight="bold" text-anchor="end" font-style="normal">90</text>
<text x="1704.3" y="130.9" font-size="29" font-weight="bold" text-anchor="end" font-style="normal">100</text>
<text x="1704.3" y="97.22" font-size="29" font-weight="bold" text-anchor="end" font-style="normal">110</text>
<text x="1704.3" y="63.54" font-size="29" font-weight="bold" text-anchor="end" font-style="normal">120</text>
<text x="1720.3" y="501.5" font-size="29" font-weight="bold" text-anchor="middle" font-style="normal">-2.5</text>
<text x="1842.1" y="501.5" font-size="29" font-weight="bold" text-anchor="middle" font-style="normal">-1.5</text>
<text x="1963.9" y="501.5" font-size="29" font-weight="bold" text-anchor="middle" font-style="normal">-0.5</text>
<text x="2085.7" y="501.5" font-size="29" font-weight="bold" text-anchor="middle" font-style="normal">0.5</text>
<text x="2207.5" y="501.5" font-size="29" font-weight="bold" text-anchor="middle" font-style="normal">1.5</text>
<text x="2329.3" y="501.5" font-size="29" font-weight="bold" text-anchor="middle" font-style="normal">2.5</text>
<polyline points="1719.8,132.64 1721.83,132.74 1723.86,132.85 1725.89,132.95 1727.92,133.07 1729.95,133.18 1731.98,133.3 1734.01,133.43 1736.04,133.56 1738.07,133.69 1740.1,133.83 1742.13,133.98 1744.16,134.13 1746.19,134.29 1748.22,134.45 1750.25,134.62 1752.28,134.8 1754.31,134.98 1756.34,135.18 1758.37,135.37 1760.4,135.58 1762.43,135.79 1764.46,136.02 1766.49,136.25 1768.52,136.49 1770.55,136.73 1772.58,136.99 1774.61,137.26 1776.64,137.54 1778.67,137.83 1780.7,138.13 1782.73,138.44 1784.76,138.76 1786.79,139.1 1788.82,139.44 1790.85,139.8 1792.88,140.18 1794.91,140.57 1796.94,140.97 1798.97,141.39 1801,141.82 1803.03,142.27 1805.06,142.74 1807.09,143.22 1809.12,143.72 1811.15,144.24 1813.18,144.78 1815.21,145.34 1817.24,145.91 1819.27,146.51 1821.3,147.13 1823.33,147.77 1825.36,148.44 1827.39,149.13 1829.42,149.84 1831.45,150.58 1833.48,151.34 1835.51,152.13 1837.54,152.95 1839.57,153.79 1841.6,154.67 1843.63,155.57 1845.66,156.5 1847.69,157.47 1849.72,158.47 1851.75,159.49 1853.78,160.56 1855.81,161.66 1857.84,162.79 1859.87,163.96 1861.9,165.16 1863.93,166.41 1865.96,167.69 1867.99,169.01 1870.02,170.37 1872.05,171.77 1874.08,173.22 1876.11,174.7 1878.14,176.23 1880.17,177.8 1882.2,179.42 1884.23,181.08 1886.26,182.79 1888.29,184.54 1890.32,186.34 1892.35,188.19 1894.38,190.08 1896.41,192.02 1898.44,194.01 1900.47,196.05 1902.5,198.13 1904.53,200.26 1906.56,202.45 1908.59,204.68 1910.62,206.95 1912.65,209.28 1914.68,211.65 1916.71,214.07 1918.74,216.54 1920.77,219.05 1922.8,221.61 1924.83,224.21 1926.86,226.86 1928.89,229.54 1930.92,232.28 1932.95,235.05 1934.98,237.86 1937.01,240.7 1939.04,243.59 1941.07,246.51 1943.1,249.46 1945.13,252.44 1947.16,255.46 1949.19,258.5 1951.22,261.57 1953.25,264.66 1955.28,267.77 1957.31,270.9 1959.34,274.05 1961.37,277.21 1963.4,280.39 1965.43,283.58 1967.46,286.77 1969.49,289.97 1971.52,293.17 1973.55,296.38 1975.58,299.58 1977.61,302.78 1979.64,305.97 1981.67,309.15 1983.7,312.32 1985.73,315.47 1987.76,318.61 1989.79,321.73 1991.82,324.83 1993.85,327.91 1995.88,330.96 1997.91,333.98 1999.94,336.98 2001.97,339.95 2004,342.88 2006.03,345.78 2008.06,348.64 2010.09,351.46 2012.12,354.25 2014.15,357 2016.18,359.7 2018.21,362.37 2020.24,364.99 2022.27,367.56 2024.3,370.09 2026.33,372.58 2028.36,375.02 2030.39,377.41 2032.42,379.75 2034.45,382.05 2036.48,384.3 2038.51,386.5 2040.54,388.65 2042.57,390.76 2044.6,392.81 2046.63,394.82 2048.66,396.78 2050.69,398.69 2052.72,400.56 2054.75,402.37 2056.78,404.15 2058.81,405.87 2060.84,407.55 2062.87,409.18 2064.9,410.77 2066.93,412.32 2068.96,413.82 2070.99,415.28 2073.02,416.7 2075.05,418.08 2077.08,419.42 2079.11,420.71 2081.14,421.97 2083.17,423.19 2085.2,424.38 2087.23,425.53 2089.26,426.64 2091.29,427.71 2093.32,428.76 2095.35,429.77 2097.38,430.74 2099.41,431.69 2101.44,432.61 2103.47,433.49 2105.5,434.35 2107.53,435.18 2109.56,435.98 2111.59,436.75 2113.62,437.5 2115.65,438.22 2117.68,438.92 2119.71,439.59 2121.74,440.24 2123.77,440.87 2125.8,441.48 2127.83,442.07 2129.86,442.63 2131.89,443.18 2133.92,443.7 2135.95,444.21 2137.98,444.7 2140.01,445.18 2142.04,445.63 2144.07,446.07 2146.1,446.5 2148.13,446.9 2150.16,447.3 2152.19,447.68 2154.22,448.04 2156.25,448.4 2158.28,448.74 2160.31,449.06 2162.34,449.38 2164.37,449.68 2166.4,449.98 2168.43,450.26 2170.46,450.53 2172.49,450.79 2174.52,451.05 2176.55,451.29 2178.58,451.52 2180.61,451.75 2182.64,451.97 2184.67,452.18 2186.7,452.38 2188.73,452.57 2190.76,452.76 2192.79,452.94 2194.82,453.11 2196.85,453.28 2198.88,453.44 2200.91,453.59 2202.94,453.74 2204.97,453.88 2207,454.02 2209.03,454.15 2211.06,454.28 2213.09,454.4 2215.12,454.52 2217.15,454.63 2219.18,454.74 2221.21,454.85 2223.24,454.95 2225.27,455.04 2227.3,455.14 2229.33,455.23 2231.36,455.31 2233.39,455.4 2235.42,455.48 2237.45,455.56 2239.48,455.63 2241.51,455.7 2243.54,455.77 2245.57,455.84 2247.6,455.9 2249.63,455.96 2251.66,456.02 2253.69,456.08 2255.72,456.13 2257.75,456.18 2259.78,456.23 2261.81,456.28 2263.84,456.33 2265.87,456.37 2267.9,456.42 2269.93,456.46 2271.96,456.5 2273.99,456.54 2276.02,456.57 2278.05,456.61 2280.08,456.64 2282.11,456.68 2284.14,456.71 2286.17,456.74 2288.2,456.77 2290.23,456.79 2292.26,456.82 2294.29,456.85 2296.32,456.87 2298.35,456.9 2300.38,456.92 2302.41,456.94 2304.44,456.96 2306.47,456.98 2308.5,457 2310.53,457.02 2312.56,457.04 2314.59,457.06 2316.62,457.08 2318.65,457.09 2320.68,457.11 2322.71,457.12 2324.74,457.14 2326.77,457.15 2328.8,457.16" fill="none" stroke-width="5.4" stroke-linejoin="round" stroke-linecap="round"/>
<polyline points="1719.8,124.4 1721.83,124.4 1723.86,124.4 1725.89,124.4 1727.92,124.4 1729.95,124.4 1731.98,124.4 1734.01,124.4 1736.04,124.4 1738.07,124.4 1740.1,124.4 1742.13,124.4 1744.16,124.4 1746.19,124.4 1748.22,124.4 1750.25,124.4 1752.28,124.4 1754.31,124.4 1756.34,124.4 1758.37,124.4 1760.4,124.4 1762.43,124.4 1764.46,124.4 1766.49,124.4 1768.52,124.4 1770.55,124.4 1772.58,124.4 1774.61,124.4 1776.64,124.4 1778.67,124.4 1780.7,124.4 1782.73,124.4 1784.76,124.4 1786.79,124.4 1788.82,124.4 1790.85,124.4 1792.88,124.4 1794.91,124.4 1796.94,124.4 1798.97,124.4 1801,124.4 1803.03,124.4 1805.06,124.4 1807.09,124.4 1809.12,124.4 1811.15,124.4 1813.18,124.4 1815.21,124.4 1817.24,124.4 1819.27,124.4 1821.3,124.4 1823.33,124.4 1825.36,124.4 1827.39,124.4 1829.42,124.4 1831.45,124.4 1833.48,124.4 1835.51,124.4 1837.54,124.4 1839.57,124.4 1841.6,124.4 1843.63,124.4 1845.66,124.4 1847.69,124.4 1849.72,124.4 1851.75,124.4 1853.78,124.4 1855.81,124.4 1857.84,124.4 1859.87,124.4 1861.9,124.4 1863.93,124.4 1865.96,124.4 1867.99,124.4 1870.02,124.4 1872.05,124.4 1874.08,124.4 1876.11,124.4 1878.14,124.4 1880.17,124.4 1882.2,124.41 1884.23,124.41 1886.26,124.41 1888.29,124.41 1890.32,124.41 1892.35,124.41 1894.38,124.41 1896.41,124.41 1898.44,124.41 1900.47,124.41 1902.5,124.41 1904.53,124.41 1906.56,124.41 1908.59,124.41 1910.62,124.41 1912.65,124.41 1914.68,124.41 1916.71,124.41 1918.74,124.41 1920.77,124.41 1922.8,124.42 1924.83,124.42 1926.86,124.42 1928.89,124.43 1930.92,124.43 1932.95,124.44 1934.98,124.45 1937.01,124.45 1939.04,124.46 1941.07,124.48 1943.1,124.49 1945.13,124.51 1947.16,124.54 1949.19,124.57 1951.22,124.6 1953.25,124.65 1955.28,124.7 1957.31,124.77 1959.34,124.85 1961.37,124.94 1963.4,125.06 1965.43,125.21 1967.46,125.38 1969.49,125.6 1971.52,125.86 1973.55,126.18 1975.58,126.57 1977.61,127.05 1979.64,127.62 1981.67,128.33 1983.7,129.18 1985.73,130.22 1987.76,131.47 1989.79,132.99 1991.82,134.83 1993.85,137.05 1995.88,139.71 1997.91,142.9 1999.94,146.71 2001.97,151.24 2004,156.6 2006.03,162.89 2008.06,170.22 2010.09,178.69 2012.12,188.37 2014.15,199.32 2016.18,211.54 2018.21,224.98 2020.24,239.51 2022.27,254.97 2024.3,271.11 2026.33,287.63 2028.36,304.22 2030.39,320.55 2032.42,336.31 2034.45,351.24 2036.48,365.13 2038.51,377.85 2040.54,389.31 2042.57,399.49 2044.6,408.44 2046.63,416.22 2048.66,422.91 2050.69,428.63 2052.72,433.47 2054.75,437.56 2056.78,440.99 2058.81,443.85 2060.84,446.24 2062.87,448.22 2064.9,449.86 2066.93,451.22 2068.96,452.33 2070.99,453.26 2073.02,454.02 2075.05,454.64 2077.08,455.15 2079.11,455.58 2081.14,455.92 2083.17,456.21 2085.2,456.44 2087.23,456.63 2089.26,456.79 2091.29,456.92 2093.32,457.02 2095.35,457.11 2097.38,457.18 2099.41,457.24 2101.44,457.28 2103.47,457.32 2105.5,457.36 2107.53,457.38 2109.56,457.4 2111.59,457.42 2113.62,457.43 2115.65,457.45 2117.68,457.46 2119.71,457.46 2121.74,457.47 2123.77,457.48 2125.8,457.48 2127.83,457.48 2129.86,457.49 2131.89,457.49 2133.92,457.49 2135.95,457.49 2137.98,457.49 2140.01,457.5 2142.04,457.5 2144.07,457.5 2146.1,457.5 2148.13,457.5 2150.16,457.5 2152.19,457.5 2154.22,457.5 2156.25,457.5 2158.28,457.5 2160.31,457.5 2162.34,457.5 2164.37,457.5 2166.4,457.5 2168.43,457.5 2170.46,457.5 2172.49,457.5 2174.52,457.5 2176.55,457.5 2178.58,457.5 2180.61,457.5 2182.64,457.5 2184.67,457.5 2186.7,457.5 2188.73,457.5 2190.76,457.5 2192.79,457.5 2194.82,457.5 2196.85,457.5 2198.88,457.5 2200.91,457.5 2202.94,457.5 2204.97,457.5 2207,457.5 2209.03,457.5 2211.06,457.5 2213.09,457.5 2215.12,457.5 2217.15,457.5 2219.18,457.5 2221.21,457.5 2223.24,457.5 2225.27,457.5 2227.3,457.5 2229.33,457.5 2231.36,457.5 2233.39,457.5 2235.42,457.5 2237.45,457.5 2239.48,457.5 2241.51,457.5 2243.54,457.5 2245.57,457.5 2247.6,457.5 2249.63,457.5 2251.66,457.5 2253.69,457.5 2255.72,457.5 2257.75,457.5 2259.78,457.5 2261.81,457.5 2263.84,457.5 2265.87,457.5 2267.9,457.5 2269.93,457.5 2271.96,457.5 2273.99,457.5 2276.02,457.5 2278.05,457.5 2280.08,457.5 2282.11,457.5 2284.14,457.5 2286.17,457.5 2288.2,457.5 2290.23,457.5 2292.26,457.5 2294.29,457.5 2296.32,457.5 2298.35,457.5 2300.38,457.5 2302.41,457.5 2304.44,457.5 2306.47,457.5 2308.5,457.5 2310.53,457.5 2312.56,457.5 2314.59,457.5 2316.62,457.5 2318.65,457.5 2320.68,457.5 2322.71,457.5 2324.74,457.5 2326.77,457.5 2328.8,457.5" fill="none" stroke-width="5.4" stroke-linejoin="round" stroke-linecap="round"/>
<line x1="1865.96" y1="123.39" x2="1865.96" y2="149.66" stroke-width="3.2" stroke-linecap="butt"/>
<line x1="1857.96" y1="123.39" x2="1873.96" y2="123.39" stroke-width="3.4" stroke-linecap="round"/>
<line x1="1857.96" y1="149.66" x2="1873.96" y2="149.66" stroke-width="3.4" stroke-linecap="round"/>
<rect x="1858.21" y="128.78" width="15.5" height="15.5" stroke="none"/>
<line x1="1987.76" y1="114.64" x2="1987.76" y2="149.66" stroke-width="3.2" stroke-linecap="butt"/>
<line x1="1979.76" y1="114.64" x2="1995.76" y2="114.64" stroke-width="3.4" stroke-linecap="round"/>
<line x1="1979.76" y1="149.66" x2="1995.76" y2="149.66" stroke-width="3.4" stroke-linecap="round"/>
<rect x="1980.01" y="124.4" width="15.5" height="15.5" stroke="none"/>
<line x1="1829.42" y1="162.46" x2="1829.42" y2="215" stroke-width="3.2" stroke-linecap="butt"/>
<line x1="1821.42" y1="162.46" x2="1837.42" y2="162.46" stroke-width="3.4" stroke-linecap="round"/>
<line x1="1821.42" y1="215" x2="1837.42" y2="215" stroke-width="3.4" stroke-linecap="round"/>
<polygon points="1821.42,181.48 1837.42,181.48 1829.42,195.98" stroke="none"/>
<line x1="1951.22" y1="229.82" x2="1951.22" y2="259.46" stroke-width="3.2" stroke-linecap="butt"/>
<line x1="1943.22" y1="229.82" x2="1959.22" y2="229.82" stroke-width="3.4" stroke-linecap="round"/>
<line x1="1943.22" y1="259.46" x2="1959.22" y2="259.46" stroke-width="3.4" stroke-linecap="round"/>
<polygon points="1943.22,237.39 1959.22,237.39 1951.22,251.89" stroke="none"/>
<line x1="2073.02" y1="420.45" x2="2073.02" y2="448.07" stroke-width="3.2" stroke-linecap="butt"/>
<line x1="2065.02" y1="420.45" x2="2081.02" y2="420.45" stroke-width="3.4" stroke-linecap="round"/>
<line x1="2065.02" y1="448.07" x2="2081.02" y2="448.07" stroke-width="3.4" stroke-linecap="round"/>
<polygon points="2065.02,427.01 2081.02,427.01 2073.02,441.51" stroke="none"/>
<rect x="2101.81" y="449.75" width="15.5" height="15.5" stroke="none"/>
<polygon points="2186.82,450.25 2202.82,450.25 2194.82,464.75" stroke="none"/>
<rect x="2223.61" y="449.75" width="15.5" height="15.5" stroke="none"/>
<rect x="2058.85" y="252.95" width="15.5" height="15.5" stroke="none"/>
<text x="2104.3" y="271.9" font-size="33" font-weight="normal" text-anchor="start" font-style="normal">LL-37</text>
<polygon points="2058.6,300.75 2074.6,300.75 2066.6,315.25" stroke="none"/>
<text x="2104.5" y="318" font-size="28.2" font-weight="normal" text-anchor="start" font-style="normal">NA-CATH:ATRA1ATRA1</text>
<text x="1623.8" y="33.6" font-size="40" font-weight="bold" text-anchor="start" font-style="normal">C</text>
<text transform="translate(1641.5,255) rotate(-90)" font-size="33.5" font-weight="bold" text-anchor="middle">% survival</text>
<text x="2024.3" y="550.4" font-size="32" font-weight="bold" text-anchor="middle" font-style="normal" textLength="412" lengthAdjust="spacing">Peptide Conc. (Log <tspan font-family="Liberation Serif, serif" font-weight="normal">μ</tspan>g/ml)</text>
<path d="M96.7,650.32 H109 V1064.5" fill="none" stroke-width="5.4" stroke-linejoin="round" stroke-linecap="round"/>
<path d="M96.7,1052.2 H714 V1064.5" fill="none" stroke-width="5.4" stroke-linejoin="round" stroke-linecap="round"/>
<line x1="96.7" y1="1052.2" x2="109" y2="1052.2" stroke-width="5" stroke-linecap="round"/>
<line x1="96.7" y1="1018.71" x2="109" y2="1018.71" stroke-width="5" stroke-linecap="round"/>
<line x1="96.7" y1="985.22" x2="109" y2="985.22" stroke-width="5" stroke-linecap="round"/>
<line x1="96.7" y1="951.73" x2="109" y2="951.73" stroke-width="5" stroke-linecap="round"/>
<line x1="96.7" y1="918.24" x2="109" y2="918.24" stroke-width="5" stroke-linecap="round"/>
<line x1="96.7" y1="884.75" x2="109" y2="884.75" stroke-width="5" stroke-linecap="round"/>
<line x1="96.7" y1="851.26" x2="109" y2="851.26" stroke-width="5" stroke-linecap="round"/>
<line x1="96.7" y1="817.77" x2="109" y2="817.77" stroke-width="5" stroke-linecap="round"/>
<line x1="96.7" y1="784.28" x2="109" y2="784.28" stroke-width="5" stroke-linecap="round"/>
<line x1="96.7" y1="750.79" x2="109" y2="750.79" stroke-width="5" stroke-linecap="round"/>
<line x1="96.7" y1="717.3" x2="109" y2="717.3" stroke-width="5" stroke-linecap="round"/>
<line x1="96.7" y1="683.81" x2="109" y2="683.81" stroke-width="5" stroke-linecap="round"/>
<line x1="96.7" y1="650.32" x2="109" y2="650.32" stroke-width="5" stroke-linecap="round"/>
<line x1="109" y1="1052.2" x2="109" y2="1064.5" stroke-width="5" stroke-linecap="round"/>
<line x1="230" y1="1052.2" x2="230" y2="1064.5" stroke-width="5" stroke-linecap="round"/>
<line x1="351" y1="1052.2" x2="351" y2="1064.5" stroke-width="5" stroke-linecap="round"/>
<line x1="472" y1="1052.2" x2="472" y2="1064.5" stroke-width="5" stroke-linecap="round"/>
<line x1="593" y1="1052.2" x2="593" y2="1064.5" stroke-width="5" stroke-linecap="round"/>
<line x1="714" y1="1052.2" x2="714" y2="1064.5" stroke-width="5" stroke-linecap="round"/>
<text x="93.5" y="1062.4" font-size="29" font-weight="bold" text-anchor="end" font-style="normal">0</text>
<text x="93.5" y="1028.91" font-size="29" font-weight="bold" text-anchor="end" font-style="normal">10</text>
<text x="93.5" y="995.42" font-size="29" font-weight="bold" text-anchor="end" font-style="normal">20</text>
<text x="93.5" y="961.93" font-size="29" font-weight="bold" text-anchor="end" font-style="normal">30</text>
<text x="93.5" y="928.44" font-size="29" font-weight="bold" text-anchor="end" font-style="normal">40</text>
<text x="93.5" y="894.95" font-size="29" font-weight="bold" text-anchor="end" font-style="normal">50</text>
<text x="93.5" y="861.46" font-size="29" font-weight="bold" text-anchor="end" font-style="normal">60</text>
<text x="93.5" y="827.97" font-size="29" font-weight="bold" text-anchor="end" font-style="normal">70</text>
<text x="93.5" y="794.48" font-size="29" font-weight="bold" text-anchor="end" font-style="normal">80</text>
<text x="93.5" y="760.99" font-size="29" font-weight="bold" text-anchor="end" font-style="normal">90</text>
<text x="93.5" y="727.5" font-size="29" font-weight="bold" text-anchor="end" font-style="normal">100</text>
<text x="93.5" y="694.01" font-size="29" font-weight="bold" text-anchor="end" font-style="normal">110</text>
<text x="93.5" y="660.52" font-size="29" font-weight="bold" text-anchor="end" font-style="normal">120</text>
<text x="109.5" y="1096.2" font-size="29" font-weight="bold" text-anchor="middle" font-style="normal">-2.5</text>
<text x="230.5" y="1096.2" font-size="29" font-weight="bold" text-anchor="middle" font-style="normal">-1.5</text>
<text x="351.5" y="1096.2" font-size="29" font-weight="bold" text-anchor="middle" font-style="normal">-0.5</text>
<text x="472.5" y="1096.2" font-size="29" font-weight="bold" text-anchor="middle" font-style="normal">0.5</text>
<text x="593.5" y="1096.2" font-size="29" font-weight="bold" text-anchor="middle" font-style="normal">1.5</text>
<text x="714.5" y="1096.2" font-size="29" font-weight="bold" text-anchor="middle" font-style="normal">2.5</text>
<polyline points="117.47,717.3 119.46,717.3 121.45,717.3 123.44,717.3 125.42,717.3 127.41,717.3 129.4,717.3 131.39,717.3 133.38,717.3 135.37,717.3 137.35,717.3 139.34,717.3 141.33,717.3 143.32,717.3 145.31,717.3 147.3,717.3 149.28,717.3 151.27,717.3 153.26,717.3 155.25,717.3 157.24,717.3 159.23,717.3 161.22,717.3 163.2,717.3 165.19,717.3 167.18,717.3 169.17,717.3 171.16,717.3 173.15,717.3 175.13,717.3 177.12,717.3 179.11,717.3 181.1,717.3 183.09,717.3 185.08,717.3 187.07,717.3 189.05,717.3 191.04,717.3 193.03,717.3 195.02,717.3 197.01,717.3 199,717.3 200.98,717.3 202.97,717.3 204.96,717.3 206.95,717.3 208.94,717.3 210.93,717.3 212.91,717.3 214.9,717.3 216.89,717.3 218.88,717.3 220.87,717.3 222.86,717.3 224.85,717.3 226.83,717.3 228.82,717.3 230.81,717.3 232.8,717.3 234.79,717.3 236.78,717.3 238.76,717.3 240.75,717.3 242.74,717.3 244.73,717.3 246.72,717.3 248.71,717.3 250.7,717.3 252.68,717.3 254.67,717.3 256.66,717.3 258.65,717.3 260.64,717.3 262.63,717.3 264.61,717.3 266.6,717.3 268.59,717.3 270.58,717.3 272.57,717.3 274.56,717.3 276.54,717.3 278.53,717.3 280.52,717.3 282.51,717.3 284.5,717.3 286.49,717.3 288.48,717.3 290.46,717.3 292.45,717.3 294.44,717.3 296.43,717.3 298.42,717.3 300.41,717.3 302.39,717.3 304.38,717.3 306.37,717.3 308.36,717.3 310.35,717.3 312.34,717.3 314.32,717.3 316.31,717.3 318.3,717.3 320.29,717.3 322.28,717.3 324.27,717.3 326.26,717.3 328.24,717.3 330.23,717.3 332.22,717.3 334.21,717.3 336.2,717.3 338.19,717.3 340.17,717.3 342.16,717.3 344.15,717.3 346.14,717.3 348.13,717.3 350.12,717.3 352.11,717.3 354.09,717.3 356.08,717.3 358.07,717.3 360.06,717.3 362.05,717.3 364.04,717.3 366.02,717.3 368.01,717.3 370,717.3 371.99,717.3 373.98,717.3 375.97,717.3 377.95,717.3 379.94,717.3 381.93,717.3 383.92,717.3 385.91,717.3 387.9,717.3 389.89,717.3 391.87,717.3 393.86,717.3 395.85,717.3 397.84,717.3 399.83,717.3 401.82,717.3 403.8,717.3 405.79,717.3 407.78,717.3 409.77,717.3 411.76,717.3 413.75,717.3 415.73,717.3 417.72,717.3 419.71,717.3 421.7,717.3 423.69,717.3 425.68,717.3 427.67,717.3 429.65,717.3 431.64,717.3 433.63,717.3 435.62,717.3 437.61,717.3 439.6,717.3 441.58,717.3 443.57,717.3 445.56,717.3 447.55,717.3 449.54,717.3 451.53,717.3 453.52,717.3 455.5,717.3 457.49,717.3 459.48,717.3 461.47,717.3 463.46,717.3 465.45,717.3 467.43,717.3 469.42,717.3 471.41,717.3 473.4,717.3 475.39,717.3 477.38,717.3 479.36,717.3 481.35,717.3 483.34,717.3 485.33,717.3 487.32,717.3 489.31,717.3 491.3,717.3 493.28,717.3 495.27,717.3 497.26,717.3 499.25,717.3 501.24,717.3 503.23,717.3 505.21,717.3 507.2,717.3 509.19,717.3 511.18,717.3 513.17,717.3 515.16,717.3 517.15,717.3 519.13,717.3 521.12,717.3 523.11,717.3 525.1,717.3 527.09,717.3 529.08,717.3 531.06,717.3 533.05,717.3 535.04,717.3 537.03,717.3 539.02,717.3 541.01,717.31 542.99,717.31 544.98,717.31 546.97,717.31 548.96,717.32 550.95,717.32 552.94,717.33 554.93,717.34 556.91,717.35 558.9,717.36 560.89,717.38 562.88,717.41 564.87,717.44 566.86,717.48 568.84,717.54 570.83,717.61 572.82,717.7 574.81,717.83 576.8,717.99 578.79,718.2 580.77,718.47 582.76,718.83 584.75,719.3 586.74,719.9 588.73,720.69 590.72,721.71 592.71,723.04 594.69,724.76 596.68,726.97 598.67,729.82 600.66,733.46 602.65,738.09 604.64,743.94 606.62,751.26 608.61,760.31 610.6,771.34 612.59,784.54 614.58,800.02 616.57,817.73 618.56,837.42 620.54,858.64 622.53,880.76 624.52,903.03 626.51,924.65 628.5,944.95 630.49,963.41 632.47,979.7 634.46,993.71 636.45,1005.49 638.44,1015.22 640.43,1023.13 642.42,1029.47 644.4,1034.51 646.39,1038.49 648.38,1041.6 650.37,1044.02 652.36,1045.9 654.35,1047.35 656.34,1048.47 658.32,1049.34 660.31,1050 662.3,1050.52 664.29,1050.91 666.28,1051.21 668.27,1051.44 670.25,1051.62 672.24,1051.75 674.23,1051.86 676.22,1051.94 678.21,1052 680.2,1052.05 682.19,1052.08 684.17,1052.11 686.16,1052.13 688.15,1052.15 690.14,1052.16 692.13,1052.17 694.12,1052.18 696.1,1052.18 698.09,1052.19 700.08,1052.19 702.07,1052.19 704.06,1052.19 706.05,1052.2 708.03,1052.2 710.02,1052.2 712.01,1052.2 714,1052.2" fill="none" stroke-width="5.4" stroke-linejoin="round" stroke-linecap="round"/>
<polyline points="117.47,717.67 119.46,717.68 121.45,717.7 123.44,717.72 125.42,717.75 127.41,717.77 129.4,717.79 131.39,717.82 133.38,717.84 135.37,717.87 137.35,717.9 139.34,717.93 141.33,717.96 143.32,718 145.31,718.03 147.3,718.07 149.28,718.11 151.27,718.15 153.26,718.2 155.25,718.24 157.24,718.29 159.23,718.34 161.22,718.39 163.2,718.45 165.19,718.51 167.18,718.57 169.17,718.63 171.16,718.7 173.15,718.77 175.13,718.85 177.12,718.93 179.11,719.01 181.1,719.1 183.09,719.19 185.08,719.29 187.07,719.39 189.05,719.49 191.04,719.6 193.03,719.72 195.02,719.84 197.01,719.97 199,720.11 200.98,720.25 202.97,720.4 204.96,720.56 206.95,720.72 208.94,720.9 210.93,721.08 212.91,721.27 214.9,721.47 216.89,721.68 218.88,721.9 220.87,722.14 222.86,722.38 224.85,722.64 226.83,722.9 228.82,723.19 230.81,723.48 232.8,723.79 234.79,724.12 236.78,724.46 238.76,724.82 240.75,725.2 242.74,725.59 244.73,726 246.72,726.44 248.71,726.89 250.7,727.37 252.68,727.87 254.67,728.39 256.66,728.94 258.65,729.51 260.64,730.11 262.63,730.74 264.61,731.4 266.6,732.09 268.59,732.82 270.58,733.57 272.57,734.36 274.56,735.19 276.54,736.06 278.53,736.96 280.52,737.91 282.51,738.89 284.5,739.92 286.49,741 288.48,742.13 290.46,743.3 292.45,744.52 294.44,745.8 296.43,747.13 298.42,748.51 300.41,749.95 302.39,751.46 304.38,753.02 306.37,754.64 308.36,756.33 310.35,758.09 312.34,759.91 314.32,761.81 316.31,763.77 318.3,765.8 320.29,767.91 322.28,770.1 324.27,772.36 326.26,774.69 328.24,777.11 330.23,779.6 332.22,782.17 334.21,784.83 336.2,787.56 338.19,790.37 340.17,793.27 342.16,796.24 344.15,799.29 346.14,802.42 348.13,805.63 350.12,808.92 352.11,812.28 354.09,815.72 356.08,819.22 358.07,822.8 360.06,826.44 362.05,830.15 364.04,833.91 366.02,837.74 368.01,841.62 370,845.55 371.99,849.52 373.98,853.54 375.97,857.59 377.95,861.68 379.94,865.8 381.93,869.94 383.92,874.09 385.91,878.26 387.9,882.44 389.89,886.62 391.87,890.8 393.86,894.98 395.85,899.13 397.84,903.28 399.83,907.39 401.82,911.49 403.8,915.54 405.79,919.56 407.78,923.54 409.77,927.48 411.76,931.36 413.75,935.19 415.73,938.97 417.72,942.68 419.71,946.33 421.7,949.91 423.69,953.42 425.68,956.87 427.67,960.24 429.65,963.53 431.64,966.75 433.63,969.89 435.62,972.95 437.61,975.93 439.6,978.83 441.58,981.65 443.57,984.4 445.56,987.06 447.55,989.64 449.54,992.14 451.53,994.56 453.52,996.91 455.5,999.17 457.49,1001.36 459.48,1003.48 461.47,1005.52 463.46,1007.49 465.45,1009.39 467.43,1011.22 469.42,1012.99 471.41,1014.68 473.4,1016.32 475.39,1017.88 477.38,1019.39 479.36,1020.84 481.35,1022.23 483.34,1023.57 485.33,1024.85 487.32,1026.08 489.31,1027.26 491.3,1028.38 493.28,1029.47 495.27,1030.5 497.26,1031.49 499.25,1032.44 501.24,1033.35 503.23,1034.22 505.21,1035.05 507.2,1035.85 509.19,1036.61 511.18,1037.33 513.17,1038.03 515.16,1038.69 517.15,1039.32 519.13,1039.93 521.12,1040.5 523.11,1041.05 525.1,1041.58 527.09,1042.08 529.08,1042.56 531.06,1043.02 533.05,1043.45 535.04,1043.87 537.03,1044.26 539.02,1044.64 541.01,1045 542.99,1045.35 544.98,1045.67 546.97,1045.99 548.96,1046.28 550.95,1046.57 552.94,1046.84 554.93,1047.09 556.91,1047.34 558.9,1047.57 560.89,1047.8 562.88,1048.01 564.87,1048.21 566.86,1048.4 568.84,1048.58 570.83,1048.76 572.82,1048.92 574.81,1049.08 576.8,1049.23 578.79,1049.38 580.77,1049.51 582.76,1049.64 584.75,1049.77 586.74,1049.88 588.73,1050 590.72,1050.1 592.71,1050.2 594.69,1050.3 596.68,1050.39 598.67,1050.48 600.66,1050.56 602.65,1050.64 604.64,1050.72 606.62,1050.79 608.61,1050.86 610.6,1050.92 612.59,1050.99 614.58,1051.05 616.57,1051.1 618.56,1051.15 620.54,1051.21 622.53,1051.25 624.52,1051.3 626.51,1051.34 628.5,1051.39 630.49,1051.42 632.47,1051.46 634.46,1051.5 636.45,1051.53 638.44,1051.56 640.43,1051.6 642.42,1051.63 644.4,1051.65 646.39,1051.68 648.38,1051.71 650.37,1051.73 652.36,1051.75 654.35,1051.77 656.34,1051.79 658.32,1051.81 660.31,1051.83 662.3,1051.85 664.29,1051.87 666.28,1051.88 668.27,1051.9 670.25,1051.91 672.24,1051.93 674.23,1051.94 676.22,1051.95 678.21,1051.97 680.2,1051.98 682.19,1051.99 684.17,1052 686.16,1052.01 688.15,1052.02 690.14,1052.03 692.13,1052.03 694.12,1052.04 696.1,1052.05 698.09,1052.06 700.08,1052.06 702.07,1052.07 704.06,1052.08 706.05,1052.08 708.03,1052.09 710.02,1052.09 712.01,1052.1 714,1052.1" fill="none" stroke-width="5.4" stroke-linejoin="round" stroke-linecap="round"/>
<line x1="193.7" y1="705.58" x2="193.7" y2="729.02" stroke-width="3.2" stroke-linecap="butt"/>
<line x1="185.7" y1="705.58" x2="201.7" y2="705.58" stroke-width="3.4" stroke-linecap="round"/>
<line x1="185.7" y1="729.02" x2="201.7" y2="729.02" stroke-width="3.4" stroke-linecap="round"/>
<rect x="185.95" y="709.55" width="15.5" height="15.5" stroke="none"/>
<line x1="193.7" y1="705.58" x2="193.7" y2="729.02" stroke-width="3.2" stroke-linecap="butt"/>
<line x1="185.7" y1="705.58" x2="201.7" y2="705.58" stroke-width="3.4" stroke-linecap="round"/>
<line x1="185.7" y1="729.02" x2="201.7" y2="729.02" stroke-width="3.4" stroke-linecap="round"/>
<polygon points="185.7,710.05 201.7,710.05 193.7,724.55" stroke="none"/>
<rect x="270.65" y="705.53" width="15.5" height="15.5" stroke="none"/>
<line x1="363.1" y1="823.46" x2="363.1" y2="864.32" stroke-width="3.2" stroke-linecap="butt"/>
<line x1="355.1" y1="823.46" x2="371.1" y2="823.46" stroke-width="3.4" stroke-linecap="round"/>
<line x1="355.1" y1="864.32" x2="371.1" y2="864.32" stroke-width="3.4" stroke-linecap="round"/>
<rect x="355.35" y="836.14" width="15.5" height="15.5" stroke="none"/>
<rect x="440.05" y="976.8" width="15.5" height="15.5" stroke="none"/>
<line x1="447.8" y1="696.87" x2="447.8" y2="737.06" stroke-width="3.2" stroke-linecap="butt"/>
<line x1="439.8" y1="696.87" x2="455.8" y2="696.87" stroke-width="3.4" stroke-linecap="round"/>
<line x1="439.8" y1="737.06" x2="455.8" y2="737.06" stroke-width="3.4" stroke-linecap="round"/>
<polygon points="439.8,709.72 455.8,709.72 447.8,724.22" stroke="none"/>
<line x1="532.5" y1="684.14" x2="532.5" y2="732.37" stroke-width="3.2" stroke-linecap="butt"/>
<line x1="524.5" y1="684.14" x2="540.5" y2="684.14" stroke-width="3.4" stroke-linecap="round"/>
<line x1="524.5" y1="732.37" x2="540.5" y2="732.37" stroke-width="3.4" stroke-linecap="round"/>
<polygon points="524.5,701.01 540.5,701.01 532.5,715.51" stroke="none"/>
<line x1="617.2" y1="788.97" x2="617.2" y2="838.53" stroke-width="3.2" stroke-linecap="butt"/>
<line x1="609.2" y1="788.97" x2="625.2" y2="788.97" stroke-width="3.4" stroke-linecap="round"/>
<line x1="609.2" y1="838.53" x2="625.2" y2="838.53" stroke-width="3.4" stroke-linecap="round"/>
<polygon points="609.2,806.5 625.2,806.5 617.2,821" stroke="none"/>
<rect x="524.75" y="1044.45" width="15.5" height="15.5" stroke="none"/>
<rect x="609.45" y="1044.45" width="15.5" height="15.5" stroke="none"/>
<rect x="183.25" y="889.25" width="15.5" height="15.5" stroke="none"/>
<text x="228" y="907.6" font-size="33" font-weight="normal" text-anchor="start" font-style="normal">ATRA-1</text>
<polygon points="183,935.05 199,935.05 191,949.55" stroke="none"/>
<text x="228" y="953.6" font-size="33" font-weight="normal" text-anchor="start" font-style="normal">ATRA-2</text>
<text x="3" y="630.2" font-size="41.5" font-weight="bold" text-anchor="start" font-style="normal">D</text>
<text transform="translate(30.5,851) rotate(-90)" font-size="33.5" font-weight="bold" text-anchor="middle">% survival</text>
<text x="411.5" y="1144.5" font-size="32" font-weight="bold" text-anchor="middle" font-style="normal" textLength="412" lengthAdjust="spacing">Peptide Conc. (Log <tspan font-family="Liberation Serif, serif" font-weight="normal">μ</tspan>g/ml)</text>
<path d="M901.9,650.44 H914.2 V1064.7" fill="none" stroke-width="5.4" stroke-linejoin="round" stroke-linecap="round"/>
<path d="M901.9,1052.4 H1518.2 V1064.7" fill="none" stroke-width="5.4" stroke-linejoin="round" stroke-linecap="round"/>
<line x1="901.9" y1="1052.4" x2="914.2" y2="1052.4" stroke-width="5" stroke-linecap="round"/>
<line x1="901.9" y1="1021.48" x2="914.2" y2="1021.48" stroke-width="5" stroke-linecap="round"/>
<line x1="901.9" y1="990.56" x2="914.2" y2="990.56" stroke-width="5" stroke-linecap="round"/>
<line x1="901.9" y1="959.64" x2="914.2" y2="959.64" stroke-width="5" stroke-linecap="round"/>
<line x1="901.9" y1="928.72" x2="914.2" y2="928.72" stroke-width="5" stroke-linecap="round"/>
<line x1="901.9" y1="897.8" x2="914.2" y2="897.8" stroke-width="5" stroke-linecap="round"/>
<line x1="901.9" y1="866.88" x2="914.2" y2="866.88" stroke-width="5" stroke-linecap="round"/>
<line x1="901.9" y1="835.96" x2="914.2" y2="835.96" stroke-width="5" stroke-linecap="round"/>
<line x1="901.9" y1="805.04" x2="914.2" y2="805.04" stroke-width="5" stroke-linecap="round"/>
<line x1="901.9" y1="774.12" x2="914.2" y2="774.12" stroke-width="5" stroke-linecap="round"/>
<line x1="901.9" y1="743.2" x2="914.2" y2="743.2" stroke-width="5" stroke-linecap="round"/>
<line x1="901.9" y1="712.28" x2="914.2" y2="712.28" stroke-width="5" stroke-linecap="round"/>
<line x1="901.9" y1="681.36" x2="914.2" y2="681.36" stroke-width="5" stroke-linecap="round"/>
<line x1="901.9" y1="650.44" x2="914.2" y2="650.44" stroke-width="5" stroke-linecap="round"/>
<line x1="914.2" y1="1052.4" x2="914.2" y2="1064.7" stroke-width="5" stroke-linecap="round"/>
<line x1="1035" y1="1052.4" x2="1035" y2="1064.7" stroke-width="5" stroke-linecap="round"/>
<line x1="1155.8" y1="1052.4" x2="1155.8" y2="1064.7" stroke-width="5" stroke-linecap="round"/>
<line x1="1276.6" y1="1052.4" x2="1276.6" y2="1064.7" stroke-width="5" stroke-linecap="round"/>
<line x1="1397.4" y1="1052.4" x2="1397.4" y2="1064.7" stroke-width="5" stroke-linecap="round"/>
<line x1="1518.2" y1="1052.4" x2="1518.2" y2="1064.7" stroke-width="5" stroke-linecap="round"/>
<text x="898.7" y="1062.6" font-size="29" font-weight="bold" text-anchor="end" font-style="normal">0</text>
<text x="898.7" y="1031.68" font-size="29" font-weight="bold" text-anchor="end" font-style="normal">10</text>
<text x="898.7" y="1000.76" font-size="29" font-weight="bold" text-anchor="end" font-style="normal">20</text>
<text x="898.7" y="969.84" font-size="29" font-weight="bold" text-anchor="end" font-style="normal">30</text>
<text x="898.7" y="938.92" font-size="29" font-weight="bold" text-anchor="end" font-style="normal">40</text>
<text x="898.7" y="908" font-size="29" font-weight="bold" text-anchor="end" font-style="normal">50</text>
<text x="898.7" y="877.08" font-size="29" font-weight="bold" text-anchor="end" font-style="normal">60</text>
<text x="898.7" y="846.16" font-size="29" font-weight="bold" text-anchor="end" font-style="normal">70</text>
<text x="898.7" y="815.24" font-size="29" font-weight="bold" text-anchor="end" font-style="normal">80</text>
<text x="898.7" y="784.32" font-size="29" font-weight="bold" text-anchor="end" font-style="normal">90</text>
<text x="898.7" y="753.4" font-size="29" font-weight="bold" text-anchor="end" font-style="normal">100</text>
<text x="898.7" y="722.48" font-size="29" font-weight="bold" text-anchor="end" font-style="normal">110</text>
<text x="898.7" y="691.56" font-size="29" font-weight="bold" text-anchor="end" font-style="normal">120</text>
<text x="898.7" y="660.64" font-size="29" font-weight="bold" text-anchor="end" font-style="normal">130</text>
<text x="914.7" y="1096.4" font-size="29" font-weight="bold" text-anchor="middle" font-style="normal">-2.5</text>
<text x="1035.5" y="1096.4" font-size="29" font-weight="bold" text-anchor="middle" font-style="normal">-1.5</text>
<text x="1156.3" y="1096.4" font-size="29" font-weight="bold" text-anchor="middle" font-style="normal">-0.5</text>
<text x="1277.1" y="1096.4" font-size="29" font-weight="bold" text-anchor="middle" font-style="normal">0.5</text>
<text x="1397.9" y="1096.4" font-size="29" font-weight="bold" text-anchor="middle" font-style="normal">1.5</text>
<text x="1518.7" y="1096.4" font-size="29" font-weight="bold" text-anchor="middle" font-style="normal">2.5</text>
<polyline points="923.86,748.11 925.85,748.18 927.83,748.24 929.81,748.31 931.79,748.38 933.77,748.46 935.75,748.53 937.73,748.61 939.71,748.7 941.69,748.78 943.68,748.87 945.66,748.97 947.64,749.07 949.62,749.17 951.6,749.27 953.58,749.38 955.56,749.5 957.54,749.62 959.52,749.74 961.51,749.87 963.49,750.01 965.47,750.15 967.45,750.3 969.43,750.45 971.41,750.61 973.39,750.77 975.37,750.95 977.35,751.12 979.34,751.31 981.32,751.5 983.3,751.71 985.28,751.92 987.26,752.13 989.24,752.36 991.22,752.6 993.2,752.84 995.18,753.1 997.17,753.36 999.15,753.64 1001.13,753.92 1003.11,754.22 1005.09,754.53 1007.07,754.86 1009.05,755.19 1011.03,755.54 1013.01,755.9 1015,756.28 1016.98,756.67 1018.96,757.08 1020.94,757.5 1022.92,757.94 1024.9,758.39 1026.88,758.86 1028.86,759.36 1030.84,759.87 1032.83,760.39 1034.81,760.94 1036.79,761.51 1038.77,762.11 1040.75,762.72 1042.73,763.36 1044.71,764.02 1046.69,764.7 1048.67,765.41 1050.66,766.15 1052.64,766.91 1054.62,767.7 1056.6,768.52 1058.58,769.36 1060.56,770.24 1062.54,771.15 1064.52,772.09 1066.5,773.06 1068.49,774.07 1070.47,775.11 1072.45,776.19 1074.43,777.3 1076.41,778.45 1078.39,779.63 1080.37,780.86 1082.35,782.12 1084.33,783.43 1086.32,784.78 1088.3,786.17 1090.28,787.6 1092.26,789.07 1094.24,790.59 1096.22,792.16 1098.2,793.77 1100.18,795.42 1102.16,797.12 1104.15,798.87 1106.13,800.67 1108.11,802.52 1110.09,804.41 1112.07,806.36 1114.05,808.35 1116.03,810.39 1118.01,812.48 1119.99,814.62 1121.98,816.81 1123.96,819.05 1125.94,821.34 1127.92,823.67 1129.9,826.06 1131.88,828.49 1133.86,830.97 1135.84,833.49 1137.82,836.06 1139.81,838.67 1141.79,841.33 1143.77,844.02 1145.75,846.76 1147.73,849.54 1149.71,852.35 1151.69,855.2 1153.67,858.08 1155.66,861 1157.64,863.95 1159.62,866.92 1161.6,869.92 1163.58,872.94 1165.56,875.99 1167.54,879.05 1169.52,882.14 1171.5,885.23 1173.49,888.34 1175.47,891.46 1177.45,894.58 1179.43,897.71 1181.41,900.84 1183.39,903.96 1185.37,907.09 1187.35,910.21 1189.33,913.32 1191.32,916.41 1193.3,919.5 1195.28,922.56 1197.26,925.61 1199.24,928.64 1201.22,931.64 1203.2,934.62 1205.18,937.57 1207.16,940.49 1209.15,943.38 1211.13,946.23 1213.11,949.05 1215.09,951.84 1217.07,954.58 1219.05,957.28 1221.03,959.94 1223.01,962.56 1224.99,965.14 1226.98,967.67 1228.96,970.15 1230.94,972.59 1232.92,974.98 1234.9,977.32 1236.88,979.62 1238.86,981.86 1240.84,984.06 1242.82,986.21 1244.81,988.31 1246.79,990.36 1248.77,992.36 1250.75,994.31 1252.73,996.21 1254.71,998.06 1256.69,999.87 1258.67,1001.62 1260.65,1003.33 1262.64,1005 1264.62,1006.61 1266.6,1008.18 1268.58,1009.71 1270.56,1011.19 1272.54,1012.63 1274.52,1014.02 1276.5,1015.38 1278.48,1016.69 1280.47,1017.96 1282.45,1019.19 1284.43,1020.38 1286.41,1021.54 1288.39,1022.65 1290.37,1023.74 1292.35,1024.78 1294.33,1025.79 1296.31,1026.77 1298.3,1027.72 1300.28,1028.63 1302.26,1029.51 1304.24,1030.36 1306.22,1031.19 1308.2,1031.98 1310.18,1032.75 1312.16,1033.49 1314.14,1034.2 1316.13,1034.89 1318.11,1035.55 1320.09,1036.19 1322.07,1036.81 1324.05,1037.4 1326.03,1037.98 1328.01,1038.53 1329.99,1039.06 1331.97,1039.57 1333.96,1040.07 1335.94,1040.54 1337.92,1041 1339.9,1041.44 1341.88,1041.86 1343.86,1042.27 1345.84,1042.67 1347.82,1043.05 1349.8,1043.41 1351.79,1043.76 1353.77,1044.1 1355.75,1044.42 1357.73,1044.73 1359.71,1045.03 1361.69,1045.32 1363.67,1045.6 1365.65,1045.87 1367.63,1046.12 1369.62,1046.37 1371.6,1046.61 1373.58,1046.84 1375.56,1047.05 1377.54,1047.27 1379.52,1047.47 1381.5,1047.66 1383.48,1047.85 1385.46,1048.03 1387.45,1048.2 1389.43,1048.37 1391.41,1048.53 1393.39,1048.68 1395.37,1048.83 1397.35,1048.97 1399.33,1049.11 1401.31,1049.24 1403.3,1049.36 1405.28,1049.48 1407.26,1049.6 1409.24,1049.71 1411.22,1049.82 1413.2,1049.92 1415.18,1050.02 1417.16,1050.11 1419.14,1050.21 1421.13,1050.29 1423.11,1050.38 1425.09,1050.46 1427.07,1050.53 1429.05,1050.61 1431.03,1050.68 1433.01,1050.75 1434.99,1050.81 1436.97,1050.88 1438.96,1050.94 1440.94,1051 1442.92,1051.05 1444.9,1051.11 1446.88,1051.16 1448.86,1051.21 1450.84,1051.26 1452.82,1051.3 1454.8,1051.35 1456.79,1051.39 1458.77,1051.43 1460.75,1051.47 1462.73,1051.5 1464.71,1051.54 1466.69,1051.57 1468.67,1051.61 1470.65,1051.64 1472.63,1051.67 1474.62,1051.7 1476.6,1051.73 1478.58,1051.75 1480.56,1051.78 1482.54,1051.8 1484.52,1051.83 1486.5,1051.85 1488.48,1051.87 1490.46,1051.89 1492.45,1051.91 1494.43,1051.93 1496.41,1051.95 1498.39,1051.97 1500.37,1051.99 1502.35,1052 1504.33,1052.02 1506.31,1052.04 1508.29,1052.05 1510.28,1052.06 1512.26,1052.08 1514.24,1052.09 1516.22,1052.1 1518.2,1052.11" fill="none" stroke-width="5.4" stroke-linejoin="round" stroke-linecap="round"/>
<polyline points="923.86,747.91 925.85,748 927.83,748.09 929.81,748.19 931.79,748.3 933.77,748.4 935.75,748.51 937.73,748.62 939.71,748.74 941.69,748.86 943.68,748.99 945.66,749.12 947.64,749.25 949.62,749.39 951.6,749.53 953.58,749.68 955.56,749.83 957.54,749.99 959.52,750.16 961.51,750.32 963.49,750.5 965.47,750.68 967.45,750.87 969.43,751.06 971.41,751.26 973.39,751.46 975.37,751.68 977.35,751.9 979.34,752.12 981.32,752.36 983.3,752.6 985.28,752.85 987.26,753.11 989.24,753.38 991.22,753.65 993.2,753.94 995.18,754.23 997.17,754.53 999.15,754.85 1001.13,755.17 1003.11,755.51 1005.09,755.85 1007.07,756.21 1009.05,756.57 1011.03,756.95 1013.01,757.35 1015,757.75 1016.98,758.17 1018.96,758.6 1020.94,759.04 1022.92,759.5 1024.9,759.97 1026.88,760.46 1028.86,760.96 1030.84,761.48 1032.83,762.01 1034.81,762.56 1036.79,763.13 1038.77,763.72 1040.75,764.32 1042.73,764.94 1044.71,765.58 1046.69,766.24 1048.67,766.92 1050.66,767.62 1052.64,768.34 1054.62,769.08 1056.6,769.84 1058.58,770.62 1060.56,771.43 1062.54,772.26 1064.52,773.11 1066.5,773.99 1068.49,774.9 1070.47,775.82 1072.45,776.78 1074.43,777.76 1076.41,778.76 1078.39,779.8 1080.37,780.86 1082.35,781.95 1084.33,783.07 1086.32,784.22 1088.3,785.39 1090.28,786.6 1092.26,787.84 1094.24,789.11 1096.22,790.41 1098.2,791.74 1100.18,793.1 1102.16,794.5 1104.15,795.93 1106.13,797.39 1108.11,798.89 1110.09,800.42 1112.07,801.98 1114.05,803.58 1116.03,805.21 1118.01,806.87 1119.99,808.57 1121.98,810.31 1123.96,812.08 1125.94,813.88 1127.92,815.72 1129.9,817.59 1131.88,819.49 1133.86,821.43 1135.84,823.41 1137.82,825.41 1139.81,827.45 1141.79,829.52 1143.77,831.63 1145.75,833.76 1147.73,835.93 1149.71,838.13 1151.69,840.36 1153.67,842.61 1155.66,844.9 1157.64,847.21 1159.62,849.55 1161.6,851.91 1163.58,854.3 1165.56,856.72 1167.54,859.15 1169.52,861.61 1171.5,864.09 1173.49,866.58 1175.47,869.1 1177.45,871.63 1179.43,874.18 1181.41,876.74 1183.39,879.31 1185.37,881.9 1187.35,884.49 1189.33,887.09 1191.32,889.7 1193.3,892.32 1195.28,894.94 1197.26,897.56 1199.24,900.18 1201.22,902.8 1203.2,905.42 1205.18,908.03 1207.16,910.64 1209.15,913.25 1211.13,915.84 1213.11,918.42 1215.09,921 1217.07,923.56 1219.05,926.1 1221.03,928.63 1223.01,931.15 1224.99,933.64 1226.98,936.12 1228.96,938.58 1230.94,941.01 1232.92,943.42 1234.9,945.81 1236.88,948.18 1238.86,950.51 1240.84,952.83 1242.82,955.11 1244.81,957.36 1246.79,959.59 1248.77,961.79 1250.75,963.95 1252.73,966.09 1254.71,968.19 1256.69,970.26 1258.67,972.3 1260.65,974.3 1262.64,976.27 1264.62,978.21 1266.6,980.12 1268.58,981.98 1270.56,983.82 1272.54,985.62 1274.52,987.39 1276.5,989.12 1278.48,990.82 1280.47,992.48 1282.45,994.11 1284.43,995.71 1286.41,997.27 1288.39,998.8 1290.37,1000.29 1292.35,1001.75 1294.33,1003.18 1296.31,1004.57 1298.3,1005.93 1300.28,1007.27 1302.26,1008.56 1304.24,1009.83 1306.22,1011.07 1308.2,1012.27 1310.18,1013.45 1312.16,1014.6 1314.14,1015.71 1316.13,1016.8 1318.11,1017.86 1320.09,1018.89 1322.07,1019.9 1324.05,1020.88 1326.03,1021.83 1328.01,1022.76 1329.99,1023.66 1331.97,1024.54 1333.96,1025.39 1335.94,1026.22 1337.92,1027.03 1339.9,1027.81 1341.88,1028.57 1343.86,1029.31 1345.84,1030.03 1347.82,1030.73 1349.8,1031.4 1351.79,1032.06 1353.77,1032.7 1355.75,1033.32 1357.73,1033.92 1359.71,1034.51 1361.69,1035.07 1363.67,1035.62 1365.65,1036.16 1367.63,1036.67 1369.62,1037.18 1371.6,1037.66 1373.58,1038.13 1375.56,1038.59 1377.54,1039.03 1379.52,1039.46 1381.5,1039.88 1383.48,1040.28 1385.46,1040.67 1387.45,1041.05 1389.43,1041.42 1391.41,1041.78 1393.39,1042.12 1395.37,1042.45 1397.35,1042.78 1399.33,1043.09 1401.31,1043.39 1403.3,1043.69 1405.28,1043.97 1407.26,1044.25 1409.24,1044.51 1411.22,1044.77 1413.2,1045.02 1415.18,1045.26 1417.16,1045.5 1419.14,1045.73 1421.13,1045.94 1423.11,1046.16 1425.09,1046.36 1427.07,1046.56 1429.05,1046.75 1431.03,1046.94 1433.01,1047.12 1434.99,1047.29 1436.97,1047.46 1438.96,1047.63 1440.94,1047.78 1442.92,1047.94 1444.9,1048.08 1446.88,1048.23 1448.86,1048.36 1450.84,1048.5 1452.82,1048.63 1454.8,1048.75 1456.79,1048.87 1458.77,1048.99 1460.75,1049.1 1462.73,1049.21 1464.71,1049.32 1466.69,1049.42 1468.67,1049.52 1470.65,1049.62 1472.63,1049.71 1474.62,1049.8 1476.6,1049.89 1478.58,1049.97 1480.56,1050.05 1482.54,1050.13 1484.52,1050.2 1486.5,1050.28 1488.48,1050.35 1490.46,1050.42 1492.45,1050.48 1494.43,1050.55 1496.41,1050.61 1498.39,1050.67 1500.37,1050.73 1502.35,1050.78 1504.33,1050.84 1506.31,1050.89 1508.29,1050.94 1510.28,1050.99 1512.26,1051.03 1514.24,1051.08 1516.22,1051.12 1518.2,1051.17" fill="none" stroke-width="5.4" stroke-linejoin="round" stroke-linecap="round"/>
<line x1="914.2" y1="690.95" x2="914.2" y2="776.9" stroke-width="3.2" stroke-linecap="butt"/>
<line x1="906.2" y1="690.95" x2="922.2" y2="690.95" stroke-width="3.4" stroke-linecap="round"/>
<line x1="906.2" y1="776.9" x2="922.2" y2="776.9" stroke-width="3.4" stroke-linecap="round"/>
<polygon points="906.2,726.67 922.2,726.67 914.2,741.17" stroke="none"/>
<line x1="962.52" y1="683.52" x2="962.52" y2="727.43" stroke-width="3.2" stroke-linecap="butt"/>
<line x1="954.52" y1="683.52" x2="970.52" y2="683.52" stroke-width="3.4" stroke-linecap="round"/>
<line x1="954.52" y1="727.43" x2="970.52" y2="727.43" stroke-width="3.4" stroke-linecap="round"/>
<rect x="954.77" y="697.73" width="15.5" height="15.5" stroke="none"/>
<line x1="998.76" y1="711.04" x2="998.76" y2="738.87" stroke-width="3.2" stroke-linecap="butt"/>
<line x1="990.76" y1="711.04" x2="1006.76" y2="711.04" stroke-width="3.4" stroke-linecap="round"/>
<line x1="990.76" y1="738.87" x2="1006.76" y2="738.87" stroke-width="3.4" stroke-linecap="round"/>
<polygon points="990.76,717.71 1006.76,717.71 998.76,732.21" stroke="none"/>
<rect x="1039.33" y="739.47" width="15.5" height="15.5" stroke="none"/>
<line x1="1083.32" y1="814.93" x2="1083.32" y2="847.71" stroke-width="3.2" stroke-linecap="butt"/>
<line x1="1075.32" y1="814.93" x2="1091.32" y2="814.93" stroke-width="3.4" stroke-linecap="round"/>
<line x1="1075.32" y1="847.71" x2="1091.32" y2="847.71" stroke-width="3.4" stroke-linecap="round"/>
<polygon points="1075.32,824.07 1091.32,824.07 1083.32,838.57" stroke="none"/>
<line x1="1131.64" y1="834.41" x2="1131.64" y2="885.74" stroke-width="3.2" stroke-linecap="butt"/>
<line x1="1123.64" y1="834.41" x2="1139.64" y2="834.41" stroke-width="3.4" stroke-linecap="round"/>
<line x1="1123.64" y1="885.74" x2="1139.64" y2="885.74" stroke-width="3.4" stroke-linecap="round"/>
<rect x="1123.89" y="852.33" width="15.5" height="15.5" stroke="none"/>
<line x1="1167.88" y1="837.51" x2="1167.88" y2="877.7" stroke-width="3.2" stroke-linecap="butt"/>
<line x1="1159.88" y1="837.51" x2="1175.88" y2="837.51" stroke-width="3.4" stroke-linecap="round"/>
<line x1="1159.88" y1="877.7" x2="1175.88" y2="877.7" stroke-width="3.4" stroke-linecap="round"/>
<polygon points="1159.88,850.35 1175.88,850.35 1167.88,864.85" stroke="none"/>
<line x1="1216.2" y1="880.79" x2="1216.2" y2="907.39" stroke-width="3.2" stroke-linecap="butt"/>
<line x1="1208.2" y1="880.79" x2="1224.2" y2="880.79" stroke-width="3.4" stroke-linecap="round"/>
<line x1="1208.2" y1="907.39" x2="1224.2" y2="907.39" stroke-width="3.4" stroke-linecap="round"/>
<rect x="1208.45" y="886.34" width="15.5" height="15.5" stroke="none"/>
<line x1="1252.44" y1="993.96" x2="1252.44" y2="1021.17" stroke-width="3.2" stroke-linecap="butt"/>
<line x1="1244.44" y1="993.96" x2="1260.44" y2="993.96" stroke-width="3.4" stroke-linecap="round"/>
<line x1="1244.44" y1="1021.17" x2="1260.44" y2="1021.17" stroke-width="3.4" stroke-linecap="round"/>
<polygon points="1244.44,1000.32 1260.44,1000.32 1252.44,1014.82" stroke="none"/>
<rect x="1293.01" y="1002.29" width="15.5" height="15.5" stroke="none"/>
<polygon points="1329,1042.06 1345,1042.06 1337,1056.56" stroke="none"/>
<rect x="1377.57" y="1044.65" width="15.5" height="15.5" stroke="none"/>
<polygon points="1413.56,1045.15 1429.56,1045.15 1421.56,1059.65" stroke="none"/>
<rect x="1474.21" y="1044.65" width="15.5" height="15.5" stroke="none"/>
<rect x="1257.85" y="800.75" width="15.5" height="15.5" stroke="none"/>
<text x="1303.5" y="819.7" font-size="33" font-weight="normal" text-anchor="start" font-style="normal">D-LL-37</text>
<polygon points="1257.6,847.15 1273.6,847.15 1265.6,861.65" stroke="none"/>
<text x="1303.5" y="865.3" font-size="33" font-weight="normal" text-anchor="start" font-style="normal">LL-37</text>
<text x="818.5" y="630.2" font-size="41.5" font-weight="bold" text-anchor="start" font-style="normal">E</text>
<text transform="translate(836,851) rotate(-90)" font-size="33.5" font-weight="bold" text-anchor="middle">% survival</text>
<text x="1216.2" y="1144.5" font-size="32" font-weight="bold" text-anchor="middle" font-style="normal" textLength="412" lengthAdjust="spacing">Peptide Conc. (Log <tspan font-family="Liberation Serif, serif" font-weight="normal">μ</tspan>g/ml)</text>
<path d="M1722.2,643.41 H1734.5 V1064.8" fill="none" stroke-width="5.4" stroke-linejoin="round" stroke-linecap="round"/>
<path d="M1722.2,1052.5 H2344.5 V1064.8" fill="none" stroke-width="5.4" stroke-linejoin="round" stroke-linecap="round"/>
<line x1="1722.2" y1="1052.5" x2="1734.5" y2="1052.5" stroke-width="5" stroke-linecap="round"/>
<line x1="1722.2" y1="1015.31" x2="1734.5" y2="1015.31" stroke-width="5" stroke-linecap="round"/>
<line x1="1722.2" y1="978.12" x2="1734.5" y2="978.12" stroke-width="5" stroke-linecap="round"/>
<line x1="1722.2" y1="940.93" x2="1734.5" y2="940.93" stroke-width="5" stroke-linecap="round"/>
<line x1="1722.2" y1="903.74" x2="1734.5" y2="903.74" stroke-width="5" stroke-linecap="round"/>
<line x1="1722.2" y1="866.55" x2="1734.5" y2="866.55" stroke-width="5" stroke-linecap="round"/>
<line x1="1722.2" y1="829.36" x2="1734.5" y2="829.36" stroke-width="5" stroke-linecap="round"/>
<line x1="1722.2" y1="792.17" x2="1734.5" y2="792.17" stroke-width="5" stroke-linecap="round"/>
<line x1="1722.2" y1="754.98" x2="1734.5" y2="754.98" stroke-width="5" stroke-linecap="round"/>
<line x1="1722.2" y1="717.79" x2="1734.5" y2="717.79" stroke-width="5" stroke-linecap="round"/>
<line x1="1722.2" y1="680.6" x2="1734.5" y2="680.6" stroke-width="5" stroke-linecap="round"/>
<line x1="1722.2" y1="643.41" x2="1734.5" y2="643.41" stroke-width="5" stroke-linecap="round"/>
<line x1="1734.5" y1="1052.5" x2="1734.5" y2="1064.8" stroke-width="5" stroke-linecap="round"/>
<line x1="1810.75" y1="1052.5" x2="1810.75" y2="1064.8" stroke-width="5" stroke-linecap="round"/>
<line x1="1887" y1="1052.5" x2="1887" y2="1064.8" stroke-width="5" stroke-linecap="round"/>
<line x1="1963.25" y1="1052.5" x2="1963.25" y2="1064.8" stroke-width="5" stroke-linecap="round"/>
<line x1="2039.5" y1="1052.5" x2="2039.5" y2="1064.8" stroke-width="5" stroke-linecap="round"/>
<line x1="2115.75" y1="1052.5" x2="2115.75" y2="1064.8" stroke-width="5" stroke-linecap="round"/>
<line x1="2192" y1="1052.5" x2="2192" y2="1064.8" stroke-width="5" stroke-linecap="round"/>
<line x1="2268.25" y1="1052.5" x2="2268.25" y2="1064.8" stroke-width="5" stroke-linecap="round"/>
<line x1="2344.5" y1="1052.5" x2="2344.5" y2="1064.8" stroke-width="5" stroke-linecap="round"/>
<text x="1719" y="1062.7" font-size="29" font-weight="bold" text-anchor="end" font-style="normal">0</text>
<text x="1719" y="1025.51" font-size="29" font-weight="bold" text-anchor="end" font-style="normal">10</text>
<text x="1719" y="988.32" font-size="29" font-weight="bold" text-anchor="end" font-style="normal">20</text>
<text x="1719" y="951.13" font-size="29" font-weight="bold" text-anchor="end" font-style="normal">30</text>
<text x="1719" y="913.94" font-size="29" font-weight="bold" text-anchor="end" font-style="normal">40</text>
<text x="1719" y="876.75" font-size="29" font-weight="bold" text-anchor="end" font-style="normal">50</text>
<text x="1719" y="839.56" font-size="29" font-weight="bold" text-anchor="end" font-style="normal">60</text>
<text x="1719" y="802.37" font-size="29" font-weight="bold" text-anchor="end" font-style="normal">70</text>
<text x="1719" y="765.18" font-size="29" font-weight="bold" text-anchor="end" font-style="normal">80</text>
<text x="1719" y="727.99" font-size="29" font-weight="bold" text-anchor="end" font-style="normal">90</text>
<text x="1719" y="690.8" font-size="29" font-weight="bold" text-anchor="end" font-style="normal">100</text>
<text x="1719" y="653.61" font-size="29" font-weight="bold" text-anchor="end" font-style="normal">110</text>
<text x="1735" y="1096.5" font-size="29" font-weight="bold" text-anchor="middle" font-style="normal">0</text>
<text x="1811.25" y="1096.5" font-size="29" font-weight="bold" text-anchor="middle" font-style="normal">25</text>
<text x="1887.5" y="1096.5" font-size="29" font-weight="bold" text-anchor="middle" font-style="normal">50</text>
<text x="1963.75" y="1096.5" font-size="29" font-weight="bold" text-anchor="middle" font-style="normal">75</text>
<text x="2040" y="1096.5" font-size="29" font-weight="bold" text-anchor="middle" font-style="normal">100</text>
<text x="2116.25" y="1096.5" font-size="29" font-weight="bold" text-anchor="middle" font-style="normal">125</text>
<text x="2192.5" y="1096.5" font-size="29" font-weight="bold" text-anchor="middle" font-style="normal">150</text>
<text x="2268.75" y="1096.5" font-size="29" font-weight="bold" text-anchor="middle" font-style="normal">175</text>
<text x="2345" y="1096.5" font-size="29" font-weight="bold" text-anchor="middle" font-style="normal">200</text>
<polyline points="1734.5,680.6 1765,1036.88 1795.5,1039.48 1871.75,1045.06 1917.5,1052.5 2009,1052.5 2100.5,1052.5 2192,1052.5 2283.5,1052.5" fill="none" stroke-width="3.3" stroke-linejoin="miter" stroke-linecap="round"/>
<rect x="1726.75" y="672.85" width="15.5" height="15.5" stroke="none"/>
<line x1="1765" y1="1028.33" x2="1765" y2="1045.43" stroke-width="3.2" stroke-linecap="butt"/>
<line x1="1757" y1="1028.33" x2="1773" y2="1028.33" stroke-width="3.4" stroke-linecap="round"/>
<line x1="1757" y1="1045.43" x2="1773" y2="1045.43" stroke-width="3.4" stroke-linecap="round"/>
<rect x="1757.25" y="1029.13" width="15.5" height="15.5" stroke="none"/>
<rect x="1787.75" y="1031.73" width="15.5" height="15.5" stroke="none"/>
<rect x="1864" y="1037.31" width="15.5" height="15.5" stroke="none"/>
<rect x="1909.75" y="1044.75" width="15.5" height="15.5" stroke="none"/>
<rect x="2001.25" y="1044.75" width="15.5" height="15.5" stroke="none"/>
<rect x="2092.75" y="1044.75" width="15.5" height="15.5" stroke="none"/>
<rect x="2184.25" y="1044.75" width="15.5" height="15.5" stroke="none"/>
<rect x="2275.75" y="1044.75" width="15.5" height="15.5" stroke="none"/>
<polyline points="1734.5,680.6 1765,719.28 1795.5,801.84 1871.75,869.15 1917.5,917.5 2009,940.19 2100.5,970.31 2283.5,1021.63" fill="none" stroke-width="3.3" stroke-linejoin="miter" stroke-linecap="round"/>
<polygon points="1734.5,672.85 1741.5,680.6 1734.5,688.35 1727.5,680.6" stroke="none"/>
<polygon points="1765,711.53 1772,719.28 1765,727.03 1758,719.28" stroke="none"/>
<polygon points="1795.5,794.09 1802.5,801.84 1795.5,809.59 1788.5,801.84" stroke="none"/>
<polygon points="1871.75,861.4 1878.75,869.15 1871.75,876.9 1864.75,869.15" stroke="none"/>
<polygon points="1917.5,909.75 1924.5,917.5 1917.5,925.25 1910.5,917.5" stroke="none"/>
<polygon points="2009,932.44 2016,940.19 2009,947.94 2002,940.19" stroke="none"/>
<polygon points="2100.5,962.56 2107.5,970.31 2100.5,978.06 2093.5,970.31" stroke="none"/>
<polygon points="2283.5,1013.88 2290.5,1021.63 2283.5,1029.38 2276.5,1021.63" stroke="none"/>
<polyline points="1734.5,680.6 1765,719.28 1795.5,781.38 1871.75,905.23 1917.5,934.98 2009,995.23 2100.5,1000.43 2283.5,1018.66" fill="none" stroke-width="3.3" stroke-linejoin="miter" stroke-linecap="round"/>
<polygon points="1726.5,673.35 1742.5,673.35 1734.5,687.85" stroke="none"/>
<line x1="1765" y1="704.77" x2="1765" y2="733.78" stroke-width="3.2" stroke-linecap="butt"/>
<line x1="1757" y1="704.77" x2="1773" y2="704.77" stroke-width="3.4" stroke-linecap="round"/>
<line x1="1757" y1="733.78" x2="1773" y2="733.78" stroke-width="3.4" stroke-linecap="round"/>
<polygon points="1757,712.03 1773,712.03 1765,726.53" stroke="none"/>
<line x1="1795.5" y1="741.59" x2="1795.5" y2="821.18" stroke-width="3.2" stroke-linecap="butt"/>
<line x1="1787.5" y1="741.59" x2="1803.5" y2="741.59" stroke-width="3.4" stroke-linecap="round"/>
<line x1="1787.5" y1="821.18" x2="1803.5" y2="821.18" stroke-width="3.4" stroke-linecap="round"/>
<polygon points="1787.5,774.13 1803.5,774.13 1795.5,788.63" stroke="none"/>
<polygon points="1863.75,897.98 1879.75,897.98 1871.75,912.48" stroke="none"/>
<line x1="1917.5" y1="916.38" x2="1917.5" y2="953.57" stroke-width="3.2" stroke-linecap="butt"/>
<line x1="1909.5" y1="916.38" x2="1925.5" y2="916.38" stroke-width="3.4" stroke-linecap="round"/>
<line x1="1909.5" y1="953.57" x2="1925.5" y2="953.57" stroke-width="3.4" stroke-linecap="round"/>
<polygon points="1909.5,927.73 1925.5,927.73 1917.5,942.23" stroke="none"/>
<polygon points="2001,987.98 2017,987.98 2009,1002.48" stroke="none"/>
<line x1="2100.5" y1="991.51" x2="2100.5" y2="1009.36" stroke-width="3.2" stroke-linecap="butt"/>
<line x1="2092.5" y1="991.51" x2="2108.5" y2="991.51" stroke-width="3.4" stroke-linecap="round"/>
<line x1="2092.5" y1="1009.36" x2="2108.5" y2="1009.36" stroke-width="3.4" stroke-linecap="round"/>
<polygon points="2092.5,993.18 2108.5,993.18 2100.5,1007.68" stroke="none"/>
<line x1="2283.5" y1="1011.22" x2="2283.5" y2="1026.1" stroke-width="3.2" stroke-linecap="butt"/>
<line x1="2275.5" y1="1011.22" x2="2291.5" y2="1011.22" stroke-width="3.4" stroke-linecap="round"/>
<line x1="2275.5" y1="1026.1" x2="2291.5" y2="1026.1" stroke-width="3.4" stroke-linecap="round"/>
<polygon points="2275.5,1011.41 2291.5,1011.41 2283.5,1025.91" stroke="none"/>
<polyline points="1734.5,680.6 1749.75,747.17 1795.5,758.7 1917.5,757.96 2100.5,756.84 2283.5,752.75" fill="none" stroke-width="3.3" stroke-linejoin="miter" stroke-linecap="round"/>
<polygon points="1726.5,687.85 1742.5,687.85 1734.5,673.35" stroke="none"/>
<line x1="1749.75" y1="737.13" x2="1749.75" y2="757.21" stroke-width="3.2" stroke-linecap="butt"/>
<line x1="1741.75" y1="737.13" x2="1757.75" y2="737.13" stroke-width="3.4" stroke-linecap="round"/>
<line x1="1741.75" y1="757.21" x2="1757.75" y2="757.21" stroke-width="3.4" stroke-linecap="round"/>
<polygon points="1741.75,754.42 1757.75,754.42 1749.75,739.92" stroke="none"/>
<polygon points="1787.5,765.95 1803.5,765.95 1795.5,751.45" stroke="none"/>
<line x1="1917.5" y1="743.08" x2="1917.5" y2="772.83" stroke-width="3.2" stroke-linecap="butt"/>
<line x1="1909.5" y1="743.08" x2="1925.5" y2="743.08" stroke-width="3.4" stroke-linecap="round"/>
<line x1="1909.5" y1="772.83" x2="1925.5" y2="772.83" stroke-width="3.4" stroke-linecap="round"/>
<polygon points="1909.5,765.21 1925.5,765.21 1917.5,750.71" stroke="none"/>
<polygon points="2092.5,764.09 2108.5,764.09 2100.5,749.59" stroke="none"/>
<line x1="2283.5" y1="738.99" x2="2283.5" y2="766.51" stroke-width="3.2" stroke-linecap="butt"/>
<line x1="2275.5" y1="738.99" x2="2291.5" y2="738.99" stroke-width="3.4" stroke-linecap="round"/>
<line x1="2275.5" y1="766.51" x2="2291.5" y2="766.51" stroke-width="3.4" stroke-linecap="round"/>
<polygon points="2275.5,760 2291.5,760 2283.5,745.5" stroke="none"/>
<line x1="2100.3" y1="796.7" x2="2160.7" y2="796.7" stroke-width="3" stroke-linecap="butt"/>
<polygon points="2122.5,803.95 2138.5,803.95 2130.5,789.45" stroke="none"/>
<text x="2168" y="807.1" font-size="27" font-weight="normal" text-anchor="start" font-style="italic" textLength="177" lengthAdjust="spacingAndGlyphs">P. aeruginosa</text>
<line x1="2100.3" y1="844.1" x2="2160.7" y2="844.1" stroke-width="3" stroke-linecap="butt"/>
<polygon points="2122.5,836.85 2138.5,836.85 2130.5,851.35" stroke="none"/>
<text x="2168" y="854.5" font-size="28.7" font-weight="normal" text-anchor="start" font-style="normal">LL-37</text>
<line x1="2100.3" y1="893.3" x2="2160.7" y2="893.3" stroke-width="3" stroke-linecap="butt"/>
<polygon points="2130.5,885.55 2137.5,893.3 2130.5,901.05 2123.5,893.3" stroke="none"/>
<text x="2168" y="903.6" font-size="28.7" font-weight="normal" text-anchor="start" font-style="normal">D-LL-37</text>
<line x1="2102" y1="933.8" x2="2162.4" y2="933.8" stroke-width="3" stroke-linecap="butt"/>
<rect x="2124.45" y="926.05" width="15.5" height="15.5" stroke="none"/>
<text x="2168" y="943.3" font-size="28.7" font-weight="normal" text-anchor="start" font-style="normal">NA-CATH:ATRA1-ATRA1</text>
<text x="1622.5" y="630.2" font-size="41.5" font-weight="bold" text-anchor="start" font-style="normal">F</text>
<text transform="translate(1648.5,849.6) rotate(-90)" font-size="34.5" font-weight="bold" text-anchor="middle">CFU/ml (x 10<tspan font-size="22" dy="-19">7</tspan><tspan dy="19">)</tspan></text>
<text x="2039.5" y="1141.9" font-size="32" font-weight="bold" text-anchor="middle" font-style="normal">Time (min)</text>
</svg>
</body></html>
